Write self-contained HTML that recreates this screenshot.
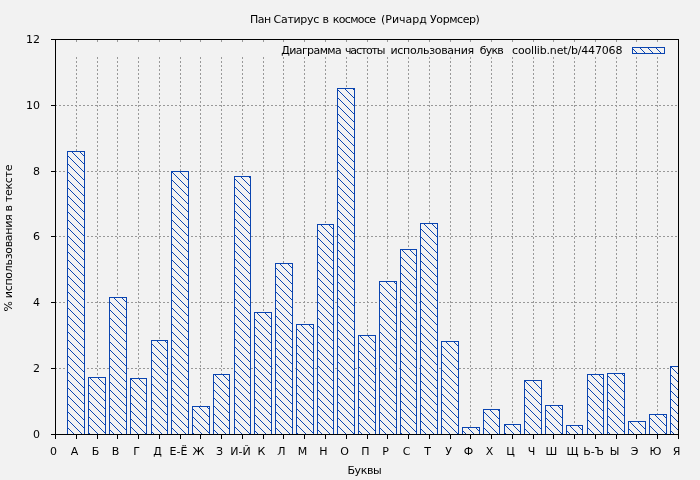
<!DOCTYPE html>
<html><head><meta charset="utf-8"><style>
html,body{margin:0;padding:0;background:#f2f2f2;width:700px;height:480px;overflow:hidden}
svg{display:block}
</style></head><body>
<svg width="700" height="480" viewBox="0 0 700 480" shape-rendering="crispEdges">
<rect width="700" height="480" fill="#f2f2f2"/>
<path d="M55 368h2v1h-2zM59 368h2v1h-2zM63 368h2v1h-2zM67 368h2v1h-2zM71 368h2v1h-2zM75 368h2v1h-2zM79 368h2v1h-2zM83 368h2v1h-2zM87 368h2v1h-2zM91 368h2v1h-2zM95 368h2v1h-2zM99 368h2v1h-2zM103 368h2v1h-2zM107 368h2v1h-2zM111 368h2v1h-2zM115 368h2v1h-2zM119 368h2v1h-2zM123 368h2v1h-2zM127 368h2v1h-2zM131 368h2v1h-2zM135 368h2v1h-2zM139 368h2v1h-2zM143 368h2v1h-2zM147 368h2v1h-2zM151 368h2v1h-2zM155 368h2v1h-2zM159 368h2v1h-2zM163 368h2v1h-2zM167 368h2v1h-2zM171 368h2v1h-2zM175 368h2v1h-2zM179 368h2v1h-2zM183 368h2v1h-2zM187 368h2v1h-2zM191 368h2v1h-2zM195 368h2v1h-2zM199 368h2v1h-2zM203 368h2v1h-2zM207 368h2v1h-2zM211 368h2v1h-2zM215 368h2v1h-2zM219 368h2v1h-2zM223 368h2v1h-2zM227 368h2v1h-2zM231 368h2v1h-2zM235 368h2v1h-2zM239 368h2v1h-2zM243 368h2v1h-2zM247 368h2v1h-2zM251 368h2v1h-2zM255 368h2v1h-2zM259 368h2v1h-2zM263 368h2v1h-2zM267 368h2v1h-2zM271 368h2v1h-2zM275 368h2v1h-2zM279 368h2v1h-2zM283 368h2v1h-2zM287 368h2v1h-2zM291 368h2v1h-2zM295 368h2v1h-2zM299 368h2v1h-2zM303 368h2v1h-2zM307 368h2v1h-2zM311 368h2v1h-2zM315 368h2v1h-2zM319 368h2v1h-2zM323 368h2v1h-2zM327 368h2v1h-2zM331 368h2v1h-2zM335 368h2v1h-2zM339 368h2v1h-2zM343 368h2v1h-2zM347 368h2v1h-2zM351 368h2v1h-2zM355 368h2v1h-2zM359 368h2v1h-2zM363 368h2v1h-2zM367 368h2v1h-2zM371 368h2v1h-2zM375 368h2v1h-2zM379 368h2v1h-2zM383 368h2v1h-2zM387 368h2v1h-2zM391 368h2v1h-2zM395 368h2v1h-2zM399 368h2v1h-2zM403 368h2v1h-2zM407 368h2v1h-2zM411 368h2v1h-2zM415 368h2v1h-2zM419 368h2v1h-2zM423 368h2v1h-2zM427 368h2v1h-2zM431 368h2v1h-2zM435 368h2v1h-2zM439 368h2v1h-2zM443 368h2v1h-2zM447 368h2v1h-2zM451 368h2v1h-2zM455 368h2v1h-2zM459 368h2v1h-2zM463 368h2v1h-2zM467 368h2v1h-2zM471 368h2v1h-2zM475 368h2v1h-2zM479 368h2v1h-2zM483 368h2v1h-2zM487 368h2v1h-2zM491 368h2v1h-2zM495 368h2v1h-2zM499 368h2v1h-2zM503 368h2v1h-2zM507 368h2v1h-2zM511 368h2v1h-2zM515 368h2v1h-2zM519 368h2v1h-2zM523 368h2v1h-2zM527 368h2v1h-2zM531 368h2v1h-2zM535 368h2v1h-2zM539 368h2v1h-2zM543 368h2v1h-2zM547 368h2v1h-2zM551 368h2v1h-2zM555 368h2v1h-2zM559 368h2v1h-2zM563 368h2v1h-2zM567 368h2v1h-2zM571 368h2v1h-2zM575 368h2v1h-2zM579 368h2v1h-2zM583 368h2v1h-2zM587 368h2v1h-2zM591 368h2v1h-2zM595 368h2v1h-2zM599 368h2v1h-2zM603 368h2v1h-2zM607 368h2v1h-2zM611 368h2v1h-2zM615 368h2v1h-2zM619 368h2v1h-2zM623 368h2v1h-2zM627 368h2v1h-2zM631 368h2v1h-2zM635 368h2v1h-2zM639 368h2v1h-2zM643 368h2v1h-2zM647 368h2v1h-2zM651 368h2v1h-2zM655 368h2v1h-2zM659 368h2v1h-2zM663 368h2v1h-2zM667 368h2v1h-2zM671 368h2v1h-2zM675 368h2v1h-2zM55 302h2v1h-2zM59 302h2v1h-2zM63 302h2v1h-2zM67 302h2v1h-2zM71 302h2v1h-2zM75 302h2v1h-2zM79 302h2v1h-2zM83 302h2v1h-2zM87 302h2v1h-2zM91 302h2v1h-2zM95 302h2v1h-2zM99 302h2v1h-2zM103 302h2v1h-2zM107 302h2v1h-2zM111 302h2v1h-2zM115 302h2v1h-2zM119 302h2v1h-2zM123 302h2v1h-2zM127 302h2v1h-2zM131 302h2v1h-2zM135 302h2v1h-2zM139 302h2v1h-2zM143 302h2v1h-2zM147 302h2v1h-2zM151 302h2v1h-2zM155 302h2v1h-2zM159 302h2v1h-2zM163 302h2v1h-2zM167 302h2v1h-2zM171 302h2v1h-2zM175 302h2v1h-2zM179 302h2v1h-2zM183 302h2v1h-2zM187 302h2v1h-2zM191 302h2v1h-2zM195 302h2v1h-2zM199 302h2v1h-2zM203 302h2v1h-2zM207 302h2v1h-2zM211 302h2v1h-2zM215 302h2v1h-2zM219 302h2v1h-2zM223 302h2v1h-2zM227 302h2v1h-2zM231 302h2v1h-2zM235 302h2v1h-2zM239 302h2v1h-2zM243 302h2v1h-2zM247 302h2v1h-2zM251 302h2v1h-2zM255 302h2v1h-2zM259 302h2v1h-2zM263 302h2v1h-2zM267 302h2v1h-2zM271 302h2v1h-2zM275 302h2v1h-2zM279 302h2v1h-2zM283 302h2v1h-2zM287 302h2v1h-2zM291 302h2v1h-2zM295 302h2v1h-2zM299 302h2v1h-2zM303 302h2v1h-2zM307 302h2v1h-2zM311 302h2v1h-2zM315 302h2v1h-2zM319 302h2v1h-2zM323 302h2v1h-2zM327 302h2v1h-2zM331 302h2v1h-2zM335 302h2v1h-2zM339 302h2v1h-2zM343 302h2v1h-2zM347 302h2v1h-2zM351 302h2v1h-2zM355 302h2v1h-2zM359 302h2v1h-2zM363 302h2v1h-2zM367 302h2v1h-2zM371 302h2v1h-2zM375 302h2v1h-2zM379 302h2v1h-2zM383 302h2v1h-2zM387 302h2v1h-2zM391 302h2v1h-2zM395 302h2v1h-2zM399 302h2v1h-2zM403 302h2v1h-2zM407 302h2v1h-2zM411 302h2v1h-2zM415 302h2v1h-2zM419 302h2v1h-2zM423 302h2v1h-2zM427 302h2v1h-2zM431 302h2v1h-2zM435 302h2v1h-2zM439 302h2v1h-2zM443 302h2v1h-2zM447 302h2v1h-2zM451 302h2v1h-2zM455 302h2v1h-2zM459 302h2v1h-2zM463 302h2v1h-2zM467 302h2v1h-2zM471 302h2v1h-2zM475 302h2v1h-2zM479 302h2v1h-2zM483 302h2v1h-2zM487 302h2v1h-2zM491 302h2v1h-2zM495 302h2v1h-2zM499 302h2v1h-2zM503 302h2v1h-2zM507 302h2v1h-2zM511 302h2v1h-2zM515 302h2v1h-2zM519 302h2v1h-2zM523 302h2v1h-2zM527 302h2v1h-2zM531 302h2v1h-2zM535 302h2v1h-2zM539 302h2v1h-2zM543 302h2v1h-2zM547 302h2v1h-2zM551 302h2v1h-2zM555 302h2v1h-2zM559 302h2v1h-2zM563 302h2v1h-2zM567 302h2v1h-2zM571 302h2v1h-2zM575 302h2v1h-2zM579 302h2v1h-2zM583 302h2v1h-2zM587 302h2v1h-2zM591 302h2v1h-2zM595 302h2v1h-2zM599 302h2v1h-2zM603 302h2v1h-2zM607 302h2v1h-2zM611 302h2v1h-2zM615 302h2v1h-2zM619 302h2v1h-2zM623 302h2v1h-2zM627 302h2v1h-2zM631 302h2v1h-2zM635 302h2v1h-2zM639 302h2v1h-2zM643 302h2v1h-2zM647 302h2v1h-2zM651 302h2v1h-2zM655 302h2v1h-2zM659 302h2v1h-2zM663 302h2v1h-2zM667 302h2v1h-2zM671 302h2v1h-2zM675 302h2v1h-2zM55 236h2v1h-2zM59 236h2v1h-2zM63 236h2v1h-2zM67 236h2v1h-2zM71 236h2v1h-2zM75 236h2v1h-2zM79 236h2v1h-2zM83 236h2v1h-2zM87 236h2v1h-2zM91 236h2v1h-2zM95 236h2v1h-2zM99 236h2v1h-2zM103 236h2v1h-2zM107 236h2v1h-2zM111 236h2v1h-2zM115 236h2v1h-2zM119 236h2v1h-2zM123 236h2v1h-2zM127 236h2v1h-2zM131 236h2v1h-2zM135 236h2v1h-2zM139 236h2v1h-2zM143 236h2v1h-2zM147 236h2v1h-2zM151 236h2v1h-2zM155 236h2v1h-2zM159 236h2v1h-2zM163 236h2v1h-2zM167 236h2v1h-2zM171 236h2v1h-2zM175 236h2v1h-2zM179 236h2v1h-2zM183 236h2v1h-2zM187 236h2v1h-2zM191 236h2v1h-2zM195 236h2v1h-2zM199 236h2v1h-2zM203 236h2v1h-2zM207 236h2v1h-2zM211 236h2v1h-2zM215 236h2v1h-2zM219 236h2v1h-2zM223 236h2v1h-2zM227 236h2v1h-2zM231 236h2v1h-2zM235 236h2v1h-2zM239 236h2v1h-2zM243 236h2v1h-2zM247 236h2v1h-2zM251 236h2v1h-2zM255 236h2v1h-2zM259 236h2v1h-2zM263 236h2v1h-2zM267 236h2v1h-2zM271 236h2v1h-2zM275 236h2v1h-2zM279 236h2v1h-2zM283 236h2v1h-2zM287 236h2v1h-2zM291 236h2v1h-2zM295 236h2v1h-2zM299 236h2v1h-2zM303 236h2v1h-2zM307 236h2v1h-2zM311 236h2v1h-2zM315 236h2v1h-2zM319 236h2v1h-2zM323 236h2v1h-2zM327 236h2v1h-2zM331 236h2v1h-2zM335 236h2v1h-2zM339 236h2v1h-2zM343 236h2v1h-2zM347 236h2v1h-2zM351 236h2v1h-2zM355 236h2v1h-2zM359 236h2v1h-2zM363 236h2v1h-2zM367 236h2v1h-2zM371 236h2v1h-2zM375 236h2v1h-2zM379 236h2v1h-2zM383 236h2v1h-2zM387 236h2v1h-2zM391 236h2v1h-2zM395 236h2v1h-2zM399 236h2v1h-2zM403 236h2v1h-2zM407 236h2v1h-2zM411 236h2v1h-2zM415 236h2v1h-2zM419 236h2v1h-2zM423 236h2v1h-2zM427 236h2v1h-2zM431 236h2v1h-2zM435 236h2v1h-2zM439 236h2v1h-2zM443 236h2v1h-2zM447 236h2v1h-2zM451 236h2v1h-2zM455 236h2v1h-2zM459 236h2v1h-2zM463 236h2v1h-2zM467 236h2v1h-2zM471 236h2v1h-2zM475 236h2v1h-2zM479 236h2v1h-2zM483 236h2v1h-2zM487 236h2v1h-2zM491 236h2v1h-2zM495 236h2v1h-2zM499 236h2v1h-2zM503 236h2v1h-2zM507 236h2v1h-2zM511 236h2v1h-2zM515 236h2v1h-2zM519 236h2v1h-2zM523 236h2v1h-2zM527 236h2v1h-2zM531 236h2v1h-2zM535 236h2v1h-2zM539 236h2v1h-2zM543 236h2v1h-2zM547 236h2v1h-2zM551 236h2v1h-2zM555 236h2v1h-2zM559 236h2v1h-2zM563 236h2v1h-2zM567 236h2v1h-2zM571 236h2v1h-2zM575 236h2v1h-2zM579 236h2v1h-2zM583 236h2v1h-2zM587 236h2v1h-2zM591 236h2v1h-2zM595 236h2v1h-2zM599 236h2v1h-2zM603 236h2v1h-2zM607 236h2v1h-2zM611 236h2v1h-2zM615 236h2v1h-2zM619 236h2v1h-2zM623 236h2v1h-2zM627 236h2v1h-2zM631 236h2v1h-2zM635 236h2v1h-2zM639 236h2v1h-2zM643 236h2v1h-2zM647 236h2v1h-2zM651 236h2v1h-2zM655 236h2v1h-2zM659 236h2v1h-2zM663 236h2v1h-2zM667 236h2v1h-2zM671 236h2v1h-2zM675 236h2v1h-2zM55 171h2v1h-2zM59 171h2v1h-2zM63 171h2v1h-2zM67 171h2v1h-2zM71 171h2v1h-2zM75 171h2v1h-2zM79 171h2v1h-2zM83 171h2v1h-2zM87 171h2v1h-2zM91 171h2v1h-2zM95 171h2v1h-2zM99 171h2v1h-2zM103 171h2v1h-2zM107 171h2v1h-2zM111 171h2v1h-2zM115 171h2v1h-2zM119 171h2v1h-2zM123 171h2v1h-2zM127 171h2v1h-2zM131 171h2v1h-2zM135 171h2v1h-2zM139 171h2v1h-2zM143 171h2v1h-2zM147 171h2v1h-2zM151 171h2v1h-2zM155 171h2v1h-2zM159 171h2v1h-2zM163 171h2v1h-2zM167 171h2v1h-2zM171 171h2v1h-2zM175 171h2v1h-2zM179 171h2v1h-2zM183 171h2v1h-2zM187 171h2v1h-2zM191 171h2v1h-2zM195 171h2v1h-2zM199 171h2v1h-2zM203 171h2v1h-2zM207 171h2v1h-2zM211 171h2v1h-2zM215 171h2v1h-2zM219 171h2v1h-2zM223 171h2v1h-2zM227 171h2v1h-2zM231 171h2v1h-2zM235 171h2v1h-2zM239 171h2v1h-2zM243 171h2v1h-2zM247 171h2v1h-2zM251 171h2v1h-2zM255 171h2v1h-2zM259 171h2v1h-2zM263 171h2v1h-2zM267 171h2v1h-2zM271 171h2v1h-2zM275 171h2v1h-2zM279 171h2v1h-2zM283 171h2v1h-2zM287 171h2v1h-2zM291 171h2v1h-2zM295 171h2v1h-2zM299 171h2v1h-2zM303 171h2v1h-2zM307 171h2v1h-2zM311 171h2v1h-2zM315 171h2v1h-2zM319 171h2v1h-2zM323 171h2v1h-2zM327 171h2v1h-2zM331 171h2v1h-2zM335 171h2v1h-2zM339 171h2v1h-2zM343 171h2v1h-2zM347 171h2v1h-2zM351 171h2v1h-2zM355 171h2v1h-2zM359 171h2v1h-2zM363 171h2v1h-2zM367 171h2v1h-2zM371 171h2v1h-2zM375 171h2v1h-2zM379 171h2v1h-2zM383 171h2v1h-2zM387 171h2v1h-2zM391 171h2v1h-2zM395 171h2v1h-2zM399 171h2v1h-2zM403 171h2v1h-2zM407 171h2v1h-2zM411 171h2v1h-2zM415 171h2v1h-2zM419 171h2v1h-2zM423 171h2v1h-2zM427 171h2v1h-2zM431 171h2v1h-2zM435 171h2v1h-2zM439 171h2v1h-2zM443 171h2v1h-2zM447 171h2v1h-2zM451 171h2v1h-2zM455 171h2v1h-2zM459 171h2v1h-2zM463 171h2v1h-2zM467 171h2v1h-2zM471 171h2v1h-2zM475 171h2v1h-2zM479 171h2v1h-2zM483 171h2v1h-2zM487 171h2v1h-2zM491 171h2v1h-2zM495 171h2v1h-2zM499 171h2v1h-2zM503 171h2v1h-2zM507 171h2v1h-2zM511 171h2v1h-2zM515 171h2v1h-2zM519 171h2v1h-2zM523 171h2v1h-2zM527 171h2v1h-2zM531 171h2v1h-2zM535 171h2v1h-2zM539 171h2v1h-2zM543 171h2v1h-2zM547 171h2v1h-2zM551 171h2v1h-2zM555 171h2v1h-2zM559 171h2v1h-2zM563 171h2v1h-2zM567 171h2v1h-2zM571 171h2v1h-2zM575 171h2v1h-2zM579 171h2v1h-2zM583 171h2v1h-2zM587 171h2v1h-2zM591 171h2v1h-2zM595 171h2v1h-2zM599 171h2v1h-2zM603 171h2v1h-2zM607 171h2v1h-2zM611 171h2v1h-2zM615 171h2v1h-2zM619 171h2v1h-2zM623 171h2v1h-2zM627 171h2v1h-2zM631 171h2v1h-2zM635 171h2v1h-2zM639 171h2v1h-2zM643 171h2v1h-2zM647 171h2v1h-2zM651 171h2v1h-2zM655 171h2v1h-2zM659 171h2v1h-2zM663 171h2v1h-2zM667 171h2v1h-2zM671 171h2v1h-2zM675 171h2v1h-2zM55 105h2v1h-2zM59 105h2v1h-2zM63 105h2v1h-2zM67 105h2v1h-2zM71 105h2v1h-2zM75 105h2v1h-2zM79 105h2v1h-2zM83 105h2v1h-2zM87 105h2v1h-2zM91 105h2v1h-2zM95 105h2v1h-2zM99 105h2v1h-2zM103 105h2v1h-2zM107 105h2v1h-2zM111 105h2v1h-2zM115 105h2v1h-2zM119 105h2v1h-2zM123 105h2v1h-2zM127 105h2v1h-2zM131 105h2v1h-2zM135 105h2v1h-2zM139 105h2v1h-2zM143 105h2v1h-2zM147 105h2v1h-2zM151 105h2v1h-2zM155 105h2v1h-2zM159 105h2v1h-2zM163 105h2v1h-2zM167 105h2v1h-2zM171 105h2v1h-2zM175 105h2v1h-2zM179 105h2v1h-2zM183 105h2v1h-2zM187 105h2v1h-2zM191 105h2v1h-2zM195 105h2v1h-2zM199 105h2v1h-2zM203 105h2v1h-2zM207 105h2v1h-2zM211 105h2v1h-2zM215 105h2v1h-2zM219 105h2v1h-2zM223 105h2v1h-2zM227 105h2v1h-2zM231 105h2v1h-2zM235 105h2v1h-2zM239 105h2v1h-2zM243 105h2v1h-2zM247 105h2v1h-2zM251 105h2v1h-2zM255 105h2v1h-2zM259 105h2v1h-2zM263 105h2v1h-2zM267 105h2v1h-2zM271 105h2v1h-2zM275 105h2v1h-2zM279 105h2v1h-2zM283 105h2v1h-2zM287 105h2v1h-2zM291 105h2v1h-2zM295 105h2v1h-2zM299 105h2v1h-2zM303 105h2v1h-2zM307 105h2v1h-2zM311 105h2v1h-2zM315 105h2v1h-2zM319 105h2v1h-2zM323 105h2v1h-2zM327 105h2v1h-2zM331 105h2v1h-2zM335 105h2v1h-2zM339 105h2v1h-2zM343 105h2v1h-2zM347 105h2v1h-2zM351 105h2v1h-2zM355 105h2v1h-2zM359 105h2v1h-2zM363 105h2v1h-2zM367 105h2v1h-2zM371 105h2v1h-2zM375 105h2v1h-2zM379 105h2v1h-2zM383 105h2v1h-2zM387 105h2v1h-2zM391 105h2v1h-2zM395 105h2v1h-2zM399 105h2v1h-2zM403 105h2v1h-2zM407 105h2v1h-2zM411 105h2v1h-2zM415 105h2v1h-2zM419 105h2v1h-2zM423 105h2v1h-2zM427 105h2v1h-2zM431 105h2v1h-2zM435 105h2v1h-2zM439 105h2v1h-2zM443 105h2v1h-2zM447 105h2v1h-2zM451 105h2v1h-2zM455 105h2v1h-2zM459 105h2v1h-2zM463 105h2v1h-2zM467 105h2v1h-2zM471 105h2v1h-2zM475 105h2v1h-2zM479 105h2v1h-2zM483 105h2v1h-2zM487 105h2v1h-2zM491 105h2v1h-2zM495 105h2v1h-2zM499 105h2v1h-2zM503 105h2v1h-2zM507 105h2v1h-2zM511 105h2v1h-2zM515 105h2v1h-2zM519 105h2v1h-2zM523 105h2v1h-2zM527 105h2v1h-2zM531 105h2v1h-2zM535 105h2v1h-2zM539 105h2v1h-2zM543 105h2v1h-2zM547 105h2v1h-2zM551 105h2v1h-2zM555 105h2v1h-2zM559 105h2v1h-2zM563 105h2v1h-2zM567 105h2v1h-2zM571 105h2v1h-2zM575 105h2v1h-2zM579 105h2v1h-2zM583 105h2v1h-2zM587 105h2v1h-2zM591 105h2v1h-2zM595 105h2v1h-2zM599 105h2v1h-2zM603 105h2v1h-2zM607 105h2v1h-2zM611 105h2v1h-2zM615 105h2v1h-2zM619 105h2v1h-2zM623 105h2v1h-2zM627 105h2v1h-2zM631 105h2v1h-2zM635 105h2v1h-2zM639 105h2v1h-2zM643 105h2v1h-2zM647 105h2v1h-2zM651 105h2v1h-2zM655 105h2v1h-2zM659 105h2v1h-2zM663 105h2v1h-2zM667 105h2v1h-2zM671 105h2v1h-2zM675 105h2v1h-2zM76 433h1v2h-1zM76 429h1v2h-1zM76 425h1v2h-1zM76 421h1v2h-1zM76 417h1v2h-1zM76 413h1v2h-1zM76 409h1v2h-1zM76 405h1v2h-1zM76 401h1v2h-1zM76 397h1v2h-1zM76 393h1v2h-1zM76 389h1v2h-1zM76 385h1v2h-1zM76 381h1v2h-1zM76 377h1v2h-1zM76 373h1v2h-1zM76 369h1v2h-1zM76 365h1v2h-1zM76 361h1v2h-1zM76 357h1v2h-1zM76 353h1v2h-1zM76 349h1v2h-1zM76 345h1v2h-1zM76 341h1v2h-1zM76 337h1v2h-1zM76 333h1v2h-1zM76 329h1v2h-1zM76 325h1v2h-1zM76 321h1v2h-1zM76 317h1v2h-1zM76 313h1v2h-1zM76 309h1v2h-1zM76 305h1v2h-1zM76 301h1v2h-1zM76 297h1v2h-1zM76 293h1v2h-1zM76 289h1v2h-1zM76 285h1v2h-1zM76 281h1v2h-1zM76 277h1v2h-1zM76 273h1v2h-1zM76 269h1v2h-1zM76 265h1v2h-1zM76 261h1v2h-1zM76 257h1v2h-1zM76 253h1v2h-1zM76 249h1v2h-1zM76 245h1v2h-1zM76 241h1v2h-1zM76 237h1v2h-1zM76 233h1v2h-1zM76 229h1v2h-1zM76 225h1v2h-1zM76 221h1v2h-1zM76 217h1v2h-1zM76 213h1v2h-1zM76 209h1v2h-1zM76 205h1v2h-1zM76 201h1v2h-1zM76 197h1v2h-1zM76 193h1v2h-1zM76 189h1v2h-1zM76 185h1v2h-1zM76 181h1v2h-1zM76 177h1v2h-1zM76 173h1v2h-1zM76 169h1v2h-1zM76 165h1v2h-1zM76 161h1v2h-1zM76 157h1v2h-1zM76 153h1v2h-1zM76 149h1v2h-1zM76 145h1v2h-1zM76 141h1v2h-1zM76 137h1v2h-1zM76 133h1v2h-1zM76 129h1v2h-1zM76 125h1v2h-1zM76 121h1v2h-1zM76 117h1v2h-1zM76 113h1v2h-1zM76 109h1v2h-1zM76 105h1v2h-1zM76 101h1v2h-1zM76 97h1v2h-1zM76 93h1v2h-1zM76 89h1v2h-1zM76 85h1v2h-1zM76 81h1v2h-1zM76 77h1v2h-1zM76 73h1v2h-1zM76 69h1v2h-1zM76 65h1v2h-1zM76 61h1v2h-1zM76 57h1v2h-1zM76 53h1v2h-1zM76 49h1v2h-1zM76 45h1v2h-1zM76 41h1v2h-1zM76 40h1v2h-1zM97 433h1v2h-1zM97 429h1v2h-1zM97 425h1v2h-1zM97 421h1v2h-1zM97 417h1v2h-1zM97 413h1v2h-1zM97 409h1v2h-1zM97 405h1v2h-1zM97 401h1v2h-1zM97 397h1v2h-1zM97 393h1v2h-1zM97 389h1v2h-1zM97 385h1v2h-1zM97 381h1v2h-1zM97 377h1v2h-1zM97 373h1v2h-1zM97 369h1v2h-1zM97 365h1v2h-1zM97 361h1v2h-1zM97 357h1v2h-1zM97 353h1v2h-1zM97 349h1v2h-1zM97 345h1v2h-1zM97 341h1v2h-1zM97 337h1v2h-1zM97 333h1v2h-1zM97 329h1v2h-1zM97 325h1v2h-1zM97 321h1v2h-1zM97 317h1v2h-1zM97 313h1v2h-1zM97 309h1v2h-1zM97 305h1v2h-1zM97 301h1v2h-1zM97 297h1v2h-1zM97 293h1v2h-1zM97 289h1v2h-1zM97 285h1v2h-1zM97 281h1v2h-1zM97 277h1v2h-1zM97 273h1v2h-1zM97 269h1v2h-1zM97 265h1v2h-1zM97 261h1v2h-1zM97 257h1v2h-1zM97 253h1v2h-1zM97 249h1v2h-1zM97 245h1v2h-1zM97 241h1v2h-1zM97 237h1v2h-1zM97 233h1v2h-1zM97 229h1v2h-1zM97 225h1v2h-1zM97 221h1v2h-1zM97 217h1v2h-1zM97 213h1v2h-1zM97 209h1v2h-1zM97 205h1v2h-1zM97 201h1v2h-1zM97 197h1v2h-1zM97 193h1v2h-1zM97 189h1v2h-1zM97 185h1v2h-1zM97 181h1v2h-1zM97 177h1v2h-1zM97 173h1v2h-1zM97 169h1v2h-1zM97 165h1v2h-1zM97 161h1v2h-1zM97 157h1v2h-1zM97 153h1v2h-1zM97 149h1v2h-1zM97 145h1v2h-1zM97 141h1v2h-1zM97 137h1v2h-1zM97 133h1v2h-1zM97 129h1v2h-1zM97 125h1v2h-1zM97 121h1v2h-1zM97 117h1v2h-1zM97 113h1v2h-1zM97 109h1v2h-1zM97 105h1v2h-1zM97 101h1v2h-1zM97 97h1v2h-1zM97 93h1v2h-1zM97 89h1v2h-1zM97 85h1v2h-1zM97 81h1v2h-1zM97 77h1v2h-1zM97 73h1v2h-1zM97 69h1v2h-1zM97 65h1v2h-1zM97 61h1v2h-1zM97 57h1v2h-1zM97 53h1v2h-1zM97 49h1v2h-1zM97 45h1v2h-1zM97 41h1v2h-1zM97 40h1v2h-1zM117 433h1v2h-1zM117 429h1v2h-1zM117 425h1v2h-1zM117 421h1v2h-1zM117 417h1v2h-1zM117 413h1v2h-1zM117 409h1v2h-1zM117 405h1v2h-1zM117 401h1v2h-1zM117 397h1v2h-1zM117 393h1v2h-1zM117 389h1v2h-1zM117 385h1v2h-1zM117 381h1v2h-1zM117 377h1v2h-1zM117 373h1v2h-1zM117 369h1v2h-1zM117 365h1v2h-1zM117 361h1v2h-1zM117 357h1v2h-1zM117 353h1v2h-1zM117 349h1v2h-1zM117 345h1v2h-1zM117 341h1v2h-1zM117 337h1v2h-1zM117 333h1v2h-1zM117 329h1v2h-1zM117 325h1v2h-1zM117 321h1v2h-1zM117 317h1v2h-1zM117 313h1v2h-1zM117 309h1v2h-1zM117 305h1v2h-1zM117 301h1v2h-1zM117 297h1v2h-1zM117 293h1v2h-1zM117 289h1v2h-1zM117 285h1v2h-1zM117 281h1v2h-1zM117 277h1v2h-1zM117 273h1v2h-1zM117 269h1v2h-1zM117 265h1v2h-1zM117 261h1v2h-1zM117 257h1v2h-1zM117 253h1v2h-1zM117 249h1v2h-1zM117 245h1v2h-1zM117 241h1v2h-1zM117 237h1v2h-1zM117 233h1v2h-1zM117 229h1v2h-1zM117 225h1v2h-1zM117 221h1v2h-1zM117 217h1v2h-1zM117 213h1v2h-1zM117 209h1v2h-1zM117 205h1v2h-1zM117 201h1v2h-1zM117 197h1v2h-1zM117 193h1v2h-1zM117 189h1v2h-1zM117 185h1v2h-1zM117 181h1v2h-1zM117 177h1v2h-1zM117 173h1v2h-1zM117 169h1v2h-1zM117 165h1v2h-1zM117 161h1v2h-1zM117 157h1v2h-1zM117 153h1v2h-1zM117 149h1v2h-1zM117 145h1v2h-1zM117 141h1v2h-1zM117 137h1v2h-1zM117 133h1v2h-1zM117 129h1v2h-1zM117 125h1v2h-1zM117 121h1v2h-1zM117 117h1v2h-1zM117 113h1v2h-1zM117 109h1v2h-1zM117 105h1v2h-1zM117 101h1v2h-1zM117 97h1v2h-1zM117 93h1v2h-1zM117 89h1v2h-1zM117 85h1v2h-1zM117 81h1v2h-1zM117 77h1v2h-1zM117 73h1v2h-1zM117 69h1v2h-1zM117 65h1v2h-1zM117 61h1v2h-1zM117 57h1v2h-1zM117 53h1v2h-1zM117 49h1v2h-1zM117 45h1v2h-1zM117 41h1v2h-1zM117 40h1v2h-1zM138 433h1v2h-1zM138 429h1v2h-1zM138 425h1v2h-1zM138 421h1v2h-1zM138 417h1v2h-1zM138 413h1v2h-1zM138 409h1v2h-1zM138 405h1v2h-1zM138 401h1v2h-1zM138 397h1v2h-1zM138 393h1v2h-1zM138 389h1v2h-1zM138 385h1v2h-1zM138 381h1v2h-1zM138 377h1v2h-1zM138 373h1v2h-1zM138 369h1v2h-1zM138 365h1v2h-1zM138 361h1v2h-1zM138 357h1v2h-1zM138 353h1v2h-1zM138 349h1v2h-1zM138 345h1v2h-1zM138 341h1v2h-1zM138 337h1v2h-1zM138 333h1v2h-1zM138 329h1v2h-1zM138 325h1v2h-1zM138 321h1v2h-1zM138 317h1v2h-1zM138 313h1v2h-1zM138 309h1v2h-1zM138 305h1v2h-1zM138 301h1v2h-1zM138 297h1v2h-1zM138 293h1v2h-1zM138 289h1v2h-1zM138 285h1v2h-1zM138 281h1v2h-1zM138 277h1v2h-1zM138 273h1v2h-1zM138 269h1v2h-1zM138 265h1v2h-1zM138 261h1v2h-1zM138 257h1v2h-1zM138 253h1v2h-1zM138 249h1v2h-1zM138 245h1v2h-1zM138 241h1v2h-1zM138 237h1v2h-1zM138 233h1v2h-1zM138 229h1v2h-1zM138 225h1v2h-1zM138 221h1v2h-1zM138 217h1v2h-1zM138 213h1v2h-1zM138 209h1v2h-1zM138 205h1v2h-1zM138 201h1v2h-1zM138 197h1v2h-1zM138 193h1v2h-1zM138 189h1v2h-1zM138 185h1v2h-1zM138 181h1v2h-1zM138 177h1v2h-1zM138 173h1v2h-1zM138 169h1v2h-1zM138 165h1v2h-1zM138 161h1v2h-1zM138 157h1v2h-1zM138 153h1v2h-1zM138 149h1v2h-1zM138 145h1v2h-1zM138 141h1v2h-1zM138 137h1v2h-1zM138 133h1v2h-1zM138 129h1v2h-1zM138 125h1v2h-1zM138 121h1v2h-1zM138 117h1v2h-1zM138 113h1v2h-1zM138 109h1v2h-1zM138 105h1v2h-1zM138 101h1v2h-1zM138 97h1v2h-1zM138 93h1v2h-1zM138 89h1v2h-1zM138 85h1v2h-1zM138 81h1v2h-1zM138 77h1v2h-1zM138 73h1v2h-1zM138 69h1v2h-1zM138 65h1v2h-1zM138 61h1v2h-1zM138 57h1v2h-1zM138 53h1v2h-1zM138 49h1v2h-1zM138 45h1v2h-1zM138 41h1v2h-1zM138 40h1v2h-1zM159 433h1v2h-1zM159 429h1v2h-1zM159 425h1v2h-1zM159 421h1v2h-1zM159 417h1v2h-1zM159 413h1v2h-1zM159 409h1v2h-1zM159 405h1v2h-1zM159 401h1v2h-1zM159 397h1v2h-1zM159 393h1v2h-1zM159 389h1v2h-1zM159 385h1v2h-1zM159 381h1v2h-1zM159 377h1v2h-1zM159 373h1v2h-1zM159 369h1v2h-1zM159 365h1v2h-1zM159 361h1v2h-1zM159 357h1v2h-1zM159 353h1v2h-1zM159 349h1v2h-1zM159 345h1v2h-1zM159 341h1v2h-1zM159 337h1v2h-1zM159 333h1v2h-1zM159 329h1v2h-1zM159 325h1v2h-1zM159 321h1v2h-1zM159 317h1v2h-1zM159 313h1v2h-1zM159 309h1v2h-1zM159 305h1v2h-1zM159 301h1v2h-1zM159 297h1v2h-1zM159 293h1v2h-1zM159 289h1v2h-1zM159 285h1v2h-1zM159 281h1v2h-1zM159 277h1v2h-1zM159 273h1v2h-1zM159 269h1v2h-1zM159 265h1v2h-1zM159 261h1v2h-1zM159 257h1v2h-1zM159 253h1v2h-1zM159 249h1v2h-1zM159 245h1v2h-1zM159 241h1v2h-1zM159 237h1v2h-1zM159 233h1v2h-1zM159 229h1v2h-1zM159 225h1v2h-1zM159 221h1v2h-1zM159 217h1v2h-1zM159 213h1v2h-1zM159 209h1v2h-1zM159 205h1v2h-1zM159 201h1v2h-1zM159 197h1v2h-1zM159 193h1v2h-1zM159 189h1v2h-1zM159 185h1v2h-1zM159 181h1v2h-1zM159 177h1v2h-1zM159 173h1v2h-1zM159 169h1v2h-1zM159 165h1v2h-1zM159 161h1v2h-1zM159 157h1v2h-1zM159 153h1v2h-1zM159 149h1v2h-1zM159 145h1v2h-1zM159 141h1v2h-1zM159 137h1v2h-1zM159 133h1v2h-1zM159 129h1v2h-1zM159 125h1v2h-1zM159 121h1v2h-1zM159 117h1v2h-1zM159 113h1v2h-1zM159 109h1v2h-1zM159 105h1v2h-1zM159 101h1v2h-1zM159 97h1v2h-1zM159 93h1v2h-1zM159 89h1v2h-1zM159 85h1v2h-1zM159 81h1v2h-1zM159 77h1v2h-1zM159 73h1v2h-1zM159 69h1v2h-1zM159 65h1v2h-1zM159 61h1v2h-1zM159 57h1v2h-1zM159 53h1v2h-1zM159 49h1v2h-1zM159 45h1v2h-1zM159 41h1v2h-1zM159 40h1v2h-1zM180 433h1v2h-1zM180 429h1v2h-1zM180 425h1v2h-1zM180 421h1v2h-1zM180 417h1v2h-1zM180 413h1v2h-1zM180 409h1v2h-1zM180 405h1v2h-1zM180 401h1v2h-1zM180 397h1v2h-1zM180 393h1v2h-1zM180 389h1v2h-1zM180 385h1v2h-1zM180 381h1v2h-1zM180 377h1v2h-1zM180 373h1v2h-1zM180 369h1v2h-1zM180 365h1v2h-1zM180 361h1v2h-1zM180 357h1v2h-1zM180 353h1v2h-1zM180 349h1v2h-1zM180 345h1v2h-1zM180 341h1v2h-1zM180 337h1v2h-1zM180 333h1v2h-1zM180 329h1v2h-1zM180 325h1v2h-1zM180 321h1v2h-1zM180 317h1v2h-1zM180 313h1v2h-1zM180 309h1v2h-1zM180 305h1v2h-1zM180 301h1v2h-1zM180 297h1v2h-1zM180 293h1v2h-1zM180 289h1v2h-1zM180 285h1v2h-1zM180 281h1v2h-1zM180 277h1v2h-1zM180 273h1v2h-1zM180 269h1v2h-1zM180 265h1v2h-1zM180 261h1v2h-1zM180 257h1v2h-1zM180 253h1v2h-1zM180 249h1v2h-1zM180 245h1v2h-1zM180 241h1v2h-1zM180 237h1v2h-1zM180 233h1v2h-1zM180 229h1v2h-1zM180 225h1v2h-1zM180 221h1v2h-1zM180 217h1v2h-1zM180 213h1v2h-1zM180 209h1v2h-1zM180 205h1v2h-1zM180 201h1v2h-1zM180 197h1v2h-1zM180 193h1v2h-1zM180 189h1v2h-1zM180 185h1v2h-1zM180 181h1v2h-1zM180 177h1v2h-1zM180 173h1v2h-1zM180 169h1v2h-1zM180 165h1v2h-1zM180 161h1v2h-1zM180 157h1v2h-1zM180 153h1v2h-1zM180 149h1v2h-1zM180 145h1v2h-1zM180 141h1v2h-1zM180 137h1v2h-1zM180 133h1v2h-1zM180 129h1v2h-1zM180 125h1v2h-1zM180 121h1v2h-1zM180 117h1v2h-1zM180 113h1v2h-1zM180 109h1v2h-1zM180 105h1v2h-1zM180 101h1v2h-1zM180 97h1v2h-1zM180 93h1v2h-1zM180 89h1v2h-1zM180 85h1v2h-1zM180 81h1v2h-1zM180 77h1v2h-1zM180 73h1v2h-1zM180 69h1v2h-1zM180 65h1v2h-1zM180 61h1v2h-1zM180 57h1v2h-1zM180 53h1v2h-1zM180 49h1v2h-1zM180 45h1v2h-1zM180 41h1v2h-1zM180 40h1v2h-1zM200 433h1v2h-1zM200 429h1v2h-1zM200 425h1v2h-1zM200 421h1v2h-1zM200 417h1v2h-1zM200 413h1v2h-1zM200 409h1v2h-1zM200 405h1v2h-1zM200 401h1v2h-1zM200 397h1v2h-1zM200 393h1v2h-1zM200 389h1v2h-1zM200 385h1v2h-1zM200 381h1v2h-1zM200 377h1v2h-1zM200 373h1v2h-1zM200 369h1v2h-1zM200 365h1v2h-1zM200 361h1v2h-1zM200 357h1v2h-1zM200 353h1v2h-1zM200 349h1v2h-1zM200 345h1v2h-1zM200 341h1v2h-1zM200 337h1v2h-1zM200 333h1v2h-1zM200 329h1v2h-1zM200 325h1v2h-1zM200 321h1v2h-1zM200 317h1v2h-1zM200 313h1v2h-1zM200 309h1v2h-1zM200 305h1v2h-1zM200 301h1v2h-1zM200 297h1v2h-1zM200 293h1v2h-1zM200 289h1v2h-1zM200 285h1v2h-1zM200 281h1v2h-1zM200 277h1v2h-1zM200 273h1v2h-1zM200 269h1v2h-1zM200 265h1v2h-1zM200 261h1v2h-1zM200 257h1v2h-1zM200 253h1v2h-1zM200 249h1v2h-1zM200 245h1v2h-1zM200 241h1v2h-1zM200 237h1v2h-1zM200 233h1v2h-1zM200 229h1v2h-1zM200 225h1v2h-1zM200 221h1v2h-1zM200 217h1v2h-1zM200 213h1v2h-1zM200 209h1v2h-1zM200 205h1v2h-1zM200 201h1v2h-1zM200 197h1v2h-1zM200 193h1v2h-1zM200 189h1v2h-1zM200 185h1v2h-1zM200 181h1v2h-1zM200 177h1v2h-1zM200 173h1v2h-1zM200 169h1v2h-1zM200 165h1v2h-1zM200 161h1v2h-1zM200 157h1v2h-1zM200 153h1v2h-1zM200 149h1v2h-1zM200 145h1v2h-1zM200 141h1v2h-1zM200 137h1v2h-1zM200 133h1v2h-1zM200 129h1v2h-1zM200 125h1v2h-1zM200 121h1v2h-1zM200 117h1v2h-1zM200 113h1v2h-1zM200 109h1v2h-1zM200 105h1v2h-1zM200 101h1v2h-1zM200 97h1v2h-1zM200 93h1v2h-1zM200 89h1v2h-1zM200 85h1v2h-1zM200 81h1v2h-1zM200 77h1v2h-1zM200 73h1v2h-1zM200 69h1v2h-1zM200 65h1v2h-1zM200 61h1v2h-1zM200 57h1v2h-1zM200 53h1v2h-1zM200 49h1v2h-1zM200 45h1v2h-1zM200 41h1v2h-1zM200 40h1v2h-1zM221 433h1v2h-1zM221 429h1v2h-1zM221 425h1v2h-1zM221 421h1v2h-1zM221 417h1v2h-1zM221 413h1v2h-1zM221 409h1v2h-1zM221 405h1v2h-1zM221 401h1v2h-1zM221 397h1v2h-1zM221 393h1v2h-1zM221 389h1v2h-1zM221 385h1v2h-1zM221 381h1v2h-1zM221 377h1v2h-1zM221 373h1v2h-1zM221 369h1v2h-1zM221 365h1v2h-1zM221 361h1v2h-1zM221 357h1v2h-1zM221 353h1v2h-1zM221 349h1v2h-1zM221 345h1v2h-1zM221 341h1v2h-1zM221 337h1v2h-1zM221 333h1v2h-1zM221 329h1v2h-1zM221 325h1v2h-1zM221 321h1v2h-1zM221 317h1v2h-1zM221 313h1v2h-1zM221 309h1v2h-1zM221 305h1v2h-1zM221 301h1v2h-1zM221 297h1v2h-1zM221 293h1v2h-1zM221 289h1v2h-1zM221 285h1v2h-1zM221 281h1v2h-1zM221 277h1v2h-1zM221 273h1v2h-1zM221 269h1v2h-1zM221 265h1v2h-1zM221 261h1v2h-1zM221 257h1v2h-1zM221 253h1v2h-1zM221 249h1v2h-1zM221 245h1v2h-1zM221 241h1v2h-1zM221 237h1v2h-1zM221 233h1v2h-1zM221 229h1v2h-1zM221 225h1v2h-1zM221 221h1v2h-1zM221 217h1v2h-1zM221 213h1v2h-1zM221 209h1v2h-1zM221 205h1v2h-1zM221 201h1v2h-1zM221 197h1v2h-1zM221 193h1v2h-1zM221 189h1v2h-1zM221 185h1v2h-1zM221 181h1v2h-1zM221 177h1v2h-1zM221 173h1v2h-1zM221 169h1v2h-1zM221 165h1v2h-1zM221 161h1v2h-1zM221 157h1v2h-1zM221 153h1v2h-1zM221 149h1v2h-1zM221 145h1v2h-1zM221 141h1v2h-1zM221 137h1v2h-1zM221 133h1v2h-1zM221 129h1v2h-1zM221 125h1v2h-1zM221 121h1v2h-1zM221 117h1v2h-1zM221 113h1v2h-1zM221 109h1v2h-1zM221 105h1v2h-1zM221 101h1v2h-1zM221 97h1v2h-1zM221 93h1v2h-1zM221 89h1v2h-1zM221 85h1v2h-1zM221 81h1v2h-1zM221 77h1v2h-1zM221 73h1v2h-1zM221 69h1v2h-1zM221 65h1v2h-1zM221 61h1v2h-1zM221 57h1v2h-1zM221 53h1v2h-1zM221 49h1v2h-1zM221 45h1v2h-1zM221 41h1v2h-1zM221 40h1v2h-1zM242 433h1v2h-1zM242 429h1v2h-1zM242 425h1v2h-1zM242 421h1v2h-1zM242 417h1v2h-1zM242 413h1v2h-1zM242 409h1v2h-1zM242 405h1v2h-1zM242 401h1v2h-1zM242 397h1v2h-1zM242 393h1v2h-1zM242 389h1v2h-1zM242 385h1v2h-1zM242 381h1v2h-1zM242 377h1v2h-1zM242 373h1v2h-1zM242 369h1v2h-1zM242 365h1v2h-1zM242 361h1v2h-1zM242 357h1v2h-1zM242 353h1v2h-1zM242 349h1v2h-1zM242 345h1v2h-1zM242 341h1v2h-1zM242 337h1v2h-1zM242 333h1v2h-1zM242 329h1v2h-1zM242 325h1v2h-1zM242 321h1v2h-1zM242 317h1v2h-1zM242 313h1v2h-1zM242 309h1v2h-1zM242 305h1v2h-1zM242 301h1v2h-1zM242 297h1v2h-1zM242 293h1v2h-1zM242 289h1v2h-1zM242 285h1v2h-1zM242 281h1v2h-1zM242 277h1v2h-1zM242 273h1v2h-1zM242 269h1v2h-1zM242 265h1v2h-1zM242 261h1v2h-1zM242 257h1v2h-1zM242 253h1v2h-1zM242 249h1v2h-1zM242 245h1v2h-1zM242 241h1v2h-1zM242 237h1v2h-1zM242 233h1v2h-1zM242 229h1v2h-1zM242 225h1v2h-1zM242 221h1v2h-1zM242 217h1v2h-1zM242 213h1v2h-1zM242 209h1v2h-1zM242 205h1v2h-1zM242 201h1v2h-1zM242 197h1v2h-1zM242 193h1v2h-1zM242 189h1v2h-1zM242 185h1v2h-1zM242 181h1v2h-1zM242 177h1v2h-1zM242 173h1v2h-1zM242 169h1v2h-1zM242 165h1v2h-1zM242 161h1v2h-1zM242 157h1v2h-1zM242 153h1v2h-1zM242 149h1v2h-1zM242 145h1v2h-1zM242 141h1v2h-1zM242 137h1v2h-1zM242 133h1v2h-1zM242 129h1v2h-1zM242 125h1v2h-1zM242 121h1v2h-1zM242 117h1v2h-1zM242 113h1v2h-1zM242 109h1v2h-1zM242 105h1v2h-1zM242 101h1v2h-1zM242 97h1v2h-1zM242 93h1v2h-1zM242 89h1v2h-1zM242 85h1v2h-1zM242 81h1v2h-1zM242 77h1v2h-1zM242 73h1v2h-1zM242 69h1v2h-1zM242 65h1v2h-1zM242 61h1v2h-1zM242 57h1v2h-1zM242 53h1v2h-1zM242 49h1v2h-1zM242 45h1v2h-1zM242 41h1v2h-1zM242 40h1v2h-1zM263 433h1v2h-1zM263 429h1v2h-1zM263 425h1v2h-1zM263 421h1v2h-1zM263 417h1v2h-1zM263 413h1v2h-1zM263 409h1v2h-1zM263 405h1v2h-1zM263 401h1v2h-1zM263 397h1v2h-1zM263 393h1v2h-1zM263 389h1v2h-1zM263 385h1v2h-1zM263 381h1v2h-1zM263 377h1v2h-1zM263 373h1v2h-1zM263 369h1v2h-1zM263 365h1v2h-1zM263 361h1v2h-1zM263 357h1v2h-1zM263 353h1v2h-1zM263 349h1v2h-1zM263 345h1v2h-1zM263 341h1v2h-1zM263 337h1v2h-1zM263 333h1v2h-1zM263 329h1v2h-1zM263 325h1v2h-1zM263 321h1v2h-1zM263 317h1v2h-1zM263 313h1v2h-1zM263 309h1v2h-1zM263 305h1v2h-1zM263 301h1v2h-1zM263 297h1v2h-1zM263 293h1v2h-1zM263 289h1v2h-1zM263 285h1v2h-1zM263 281h1v2h-1zM263 277h1v2h-1zM263 273h1v2h-1zM263 269h1v2h-1zM263 265h1v2h-1zM263 261h1v2h-1zM263 257h1v2h-1zM263 253h1v2h-1zM263 249h1v2h-1zM263 245h1v2h-1zM263 241h1v2h-1zM263 237h1v2h-1zM263 233h1v2h-1zM263 229h1v2h-1zM263 225h1v2h-1zM263 221h1v2h-1zM263 217h1v2h-1zM263 213h1v2h-1zM263 209h1v2h-1zM263 205h1v2h-1zM263 201h1v2h-1zM263 197h1v2h-1zM263 193h1v2h-1zM263 189h1v2h-1zM263 185h1v2h-1zM263 181h1v2h-1zM263 177h1v2h-1zM263 173h1v2h-1zM263 169h1v2h-1zM263 165h1v2h-1zM263 161h1v2h-1zM263 157h1v2h-1zM263 153h1v2h-1zM263 149h1v2h-1zM263 145h1v2h-1zM263 141h1v2h-1zM263 137h1v2h-1zM263 133h1v2h-1zM263 129h1v2h-1zM263 125h1v2h-1zM263 121h1v2h-1zM263 117h1v2h-1zM263 113h1v2h-1zM263 109h1v2h-1zM263 105h1v2h-1zM263 101h1v2h-1zM263 97h1v2h-1zM263 93h1v2h-1zM263 89h1v2h-1zM263 85h1v2h-1zM263 81h1v2h-1zM263 77h1v2h-1zM263 73h1v2h-1zM263 69h1v2h-1zM263 65h1v2h-1zM263 61h1v2h-1zM263 57h1v2h-1zM263 53h1v2h-1zM263 49h1v2h-1zM263 45h1v2h-1zM263 41h1v2h-1zM263 40h1v2h-1zM283 433h1v2h-1zM283 429h1v2h-1zM283 425h1v2h-1zM283 421h1v2h-1zM283 417h1v2h-1zM283 413h1v2h-1zM283 409h1v2h-1zM283 405h1v2h-1zM283 401h1v2h-1zM283 397h1v2h-1zM283 393h1v2h-1zM283 389h1v2h-1zM283 385h1v2h-1zM283 381h1v2h-1zM283 377h1v2h-1zM283 373h1v2h-1zM283 369h1v2h-1zM283 365h1v2h-1zM283 361h1v2h-1zM283 357h1v2h-1zM283 353h1v2h-1zM283 349h1v2h-1zM283 345h1v2h-1zM283 341h1v2h-1zM283 337h1v2h-1zM283 333h1v2h-1zM283 329h1v2h-1zM283 325h1v2h-1zM283 321h1v2h-1zM283 317h1v2h-1zM283 313h1v2h-1zM283 309h1v2h-1zM283 305h1v2h-1zM283 301h1v2h-1zM283 297h1v2h-1zM283 293h1v2h-1zM283 289h1v2h-1zM283 285h1v2h-1zM283 281h1v2h-1zM283 277h1v2h-1zM283 273h1v2h-1zM283 269h1v2h-1zM283 265h1v2h-1zM283 261h1v2h-1zM283 257h1v2h-1zM283 253h1v2h-1zM283 249h1v2h-1zM283 245h1v2h-1zM283 241h1v2h-1zM283 237h1v2h-1zM283 233h1v2h-1zM283 229h1v2h-1zM283 225h1v2h-1zM283 221h1v2h-1zM283 217h1v2h-1zM283 213h1v2h-1zM283 209h1v2h-1zM283 205h1v2h-1zM283 201h1v2h-1zM283 197h1v2h-1zM283 193h1v2h-1zM283 189h1v2h-1zM283 185h1v2h-1zM283 181h1v2h-1zM283 177h1v2h-1zM283 173h1v2h-1zM283 169h1v2h-1zM283 165h1v2h-1zM283 161h1v2h-1zM283 157h1v2h-1zM283 153h1v2h-1zM283 149h1v2h-1zM283 145h1v2h-1zM283 141h1v2h-1zM283 137h1v2h-1zM283 133h1v2h-1zM283 129h1v2h-1zM283 125h1v2h-1zM283 121h1v2h-1zM283 117h1v2h-1zM283 113h1v2h-1zM283 109h1v2h-1zM283 105h1v2h-1zM283 101h1v2h-1zM283 97h1v2h-1zM283 93h1v2h-1zM283 89h1v2h-1zM283 85h1v2h-1zM283 81h1v2h-1zM283 77h1v2h-1zM283 73h1v2h-1zM283 69h1v2h-1zM283 65h1v2h-1zM283 61h1v2h-1zM283 57h1v2h-1zM283 53h1v2h-1zM283 49h1v2h-1zM283 45h1v2h-1zM283 41h1v2h-1zM283 40h1v2h-1zM304 433h1v2h-1zM304 429h1v2h-1zM304 425h1v2h-1zM304 421h1v2h-1zM304 417h1v2h-1zM304 413h1v2h-1zM304 409h1v2h-1zM304 405h1v2h-1zM304 401h1v2h-1zM304 397h1v2h-1zM304 393h1v2h-1zM304 389h1v2h-1zM304 385h1v2h-1zM304 381h1v2h-1zM304 377h1v2h-1zM304 373h1v2h-1zM304 369h1v2h-1zM304 365h1v2h-1zM304 361h1v2h-1zM304 357h1v2h-1zM304 353h1v2h-1zM304 349h1v2h-1zM304 345h1v2h-1zM304 341h1v2h-1zM304 337h1v2h-1zM304 333h1v2h-1zM304 329h1v2h-1zM304 325h1v2h-1zM304 321h1v2h-1zM304 317h1v2h-1zM304 313h1v2h-1zM304 309h1v2h-1zM304 305h1v2h-1zM304 301h1v2h-1zM304 297h1v2h-1zM304 293h1v2h-1zM304 289h1v2h-1zM304 285h1v2h-1zM304 281h1v2h-1zM304 277h1v2h-1zM304 273h1v2h-1zM304 269h1v2h-1zM304 265h1v2h-1zM304 261h1v2h-1zM304 257h1v2h-1zM304 253h1v2h-1zM304 249h1v2h-1zM304 245h1v2h-1zM304 241h1v2h-1zM304 237h1v2h-1zM304 233h1v2h-1zM304 229h1v2h-1zM304 225h1v2h-1zM304 221h1v2h-1zM304 217h1v2h-1zM304 213h1v2h-1zM304 209h1v2h-1zM304 205h1v2h-1zM304 201h1v2h-1zM304 197h1v2h-1zM304 193h1v2h-1zM304 189h1v2h-1zM304 185h1v2h-1zM304 181h1v2h-1zM304 177h1v2h-1zM304 173h1v2h-1zM304 169h1v2h-1zM304 165h1v2h-1zM304 161h1v2h-1zM304 157h1v2h-1zM304 153h1v2h-1zM304 149h1v2h-1zM304 145h1v2h-1zM304 141h1v2h-1zM304 137h1v2h-1zM304 133h1v2h-1zM304 129h1v2h-1zM304 125h1v2h-1zM304 121h1v2h-1zM304 117h1v2h-1zM304 113h1v2h-1zM304 109h1v2h-1zM304 105h1v2h-1zM304 101h1v2h-1zM304 97h1v2h-1zM304 93h1v2h-1zM304 89h1v2h-1zM304 85h1v2h-1zM304 81h1v2h-1zM304 77h1v2h-1zM304 73h1v2h-1zM304 69h1v2h-1zM304 65h1v2h-1zM304 61h1v2h-1zM304 57h1v2h-1zM304 53h1v2h-1zM304 49h1v2h-1zM304 45h1v2h-1zM304 41h1v2h-1zM304 40h1v2h-1zM325 433h1v2h-1zM325 429h1v2h-1zM325 425h1v2h-1zM325 421h1v2h-1zM325 417h1v2h-1zM325 413h1v2h-1zM325 409h1v2h-1zM325 405h1v2h-1zM325 401h1v2h-1zM325 397h1v2h-1zM325 393h1v2h-1zM325 389h1v2h-1zM325 385h1v2h-1zM325 381h1v2h-1zM325 377h1v2h-1zM325 373h1v2h-1zM325 369h1v2h-1zM325 365h1v2h-1zM325 361h1v2h-1zM325 357h1v2h-1zM325 353h1v2h-1zM325 349h1v2h-1zM325 345h1v2h-1zM325 341h1v2h-1zM325 337h1v2h-1zM325 333h1v2h-1zM325 329h1v2h-1zM325 325h1v2h-1zM325 321h1v2h-1zM325 317h1v2h-1zM325 313h1v2h-1zM325 309h1v2h-1zM325 305h1v2h-1zM325 301h1v2h-1zM325 297h1v2h-1zM325 293h1v2h-1zM325 289h1v2h-1zM325 285h1v2h-1zM325 281h1v2h-1zM325 277h1v2h-1zM325 273h1v2h-1zM325 269h1v2h-1zM325 265h1v2h-1zM325 261h1v2h-1zM325 257h1v2h-1zM325 253h1v2h-1zM325 249h1v2h-1zM325 245h1v2h-1zM325 241h1v2h-1zM325 237h1v2h-1zM325 233h1v2h-1zM325 229h1v2h-1zM325 225h1v2h-1zM325 221h1v2h-1zM325 217h1v2h-1zM325 213h1v2h-1zM325 209h1v2h-1zM325 205h1v2h-1zM325 201h1v2h-1zM325 197h1v2h-1zM325 193h1v2h-1zM325 189h1v2h-1zM325 185h1v2h-1zM325 181h1v2h-1zM325 177h1v2h-1zM325 173h1v2h-1zM325 169h1v2h-1zM325 165h1v2h-1zM325 161h1v2h-1zM325 157h1v2h-1zM325 153h1v2h-1zM325 149h1v2h-1zM325 145h1v2h-1zM325 141h1v2h-1zM325 137h1v2h-1zM325 133h1v2h-1zM325 129h1v2h-1zM325 125h1v2h-1zM325 121h1v2h-1zM325 117h1v2h-1zM325 113h1v2h-1zM325 109h1v2h-1zM325 105h1v2h-1zM325 101h1v2h-1zM325 97h1v2h-1zM325 93h1v2h-1zM325 89h1v2h-1zM325 85h1v2h-1zM325 81h1v2h-1zM325 77h1v2h-1zM325 73h1v2h-1zM325 69h1v2h-1zM325 65h1v2h-1zM325 61h1v2h-1zM325 57h1v2h-1zM325 53h1v2h-1zM325 49h1v2h-1zM325 45h1v2h-1zM325 41h1v2h-1zM325 40h1v2h-1zM346 433h1v2h-1zM346 429h1v2h-1zM346 425h1v2h-1zM346 421h1v2h-1zM346 417h1v2h-1zM346 413h1v2h-1zM346 409h1v2h-1zM346 405h1v2h-1zM346 401h1v2h-1zM346 397h1v2h-1zM346 393h1v2h-1zM346 389h1v2h-1zM346 385h1v2h-1zM346 381h1v2h-1zM346 377h1v2h-1zM346 373h1v2h-1zM346 369h1v2h-1zM346 365h1v2h-1zM346 361h1v2h-1zM346 357h1v2h-1zM346 353h1v2h-1zM346 349h1v2h-1zM346 345h1v2h-1zM346 341h1v2h-1zM346 337h1v2h-1zM346 333h1v2h-1zM346 329h1v2h-1zM346 325h1v2h-1zM346 321h1v2h-1zM346 317h1v2h-1zM346 313h1v2h-1zM346 309h1v2h-1zM346 305h1v2h-1zM346 301h1v2h-1zM346 297h1v2h-1zM346 293h1v2h-1zM346 289h1v2h-1zM346 285h1v2h-1zM346 281h1v2h-1zM346 277h1v2h-1zM346 273h1v2h-1zM346 269h1v2h-1zM346 265h1v2h-1zM346 261h1v2h-1zM346 257h1v2h-1zM346 253h1v2h-1zM346 249h1v2h-1zM346 245h1v2h-1zM346 241h1v2h-1zM346 237h1v2h-1zM346 233h1v2h-1zM346 229h1v2h-1zM346 225h1v2h-1zM346 221h1v2h-1zM346 217h1v2h-1zM346 213h1v2h-1zM346 209h1v2h-1zM346 205h1v2h-1zM346 201h1v2h-1zM346 197h1v2h-1zM346 193h1v2h-1zM346 189h1v2h-1zM346 185h1v2h-1zM346 181h1v2h-1zM346 177h1v2h-1zM346 173h1v2h-1zM346 169h1v2h-1zM346 165h1v2h-1zM346 161h1v2h-1zM346 157h1v2h-1zM346 153h1v2h-1zM346 149h1v2h-1zM346 145h1v2h-1zM346 141h1v2h-1zM346 137h1v2h-1zM346 133h1v2h-1zM346 129h1v2h-1zM346 125h1v2h-1zM346 121h1v2h-1zM346 117h1v2h-1zM346 113h1v2h-1zM346 109h1v2h-1zM346 105h1v2h-1zM346 101h1v2h-1zM346 97h1v2h-1zM346 93h1v2h-1zM346 89h1v2h-1zM346 85h1v2h-1zM346 81h1v2h-1zM346 77h1v2h-1zM346 73h1v2h-1zM346 69h1v2h-1zM346 65h1v2h-1zM346 61h1v2h-1zM346 57h1v2h-1zM346 53h1v2h-1zM346 49h1v2h-1zM346 45h1v2h-1zM346 41h1v2h-1zM346 40h1v2h-1zM367 433h1v2h-1zM367 429h1v2h-1zM367 425h1v2h-1zM367 421h1v2h-1zM367 417h1v2h-1zM367 413h1v2h-1zM367 409h1v2h-1zM367 405h1v2h-1zM367 401h1v2h-1zM367 397h1v2h-1zM367 393h1v2h-1zM367 389h1v2h-1zM367 385h1v2h-1zM367 381h1v2h-1zM367 377h1v2h-1zM367 373h1v2h-1zM367 369h1v2h-1zM367 365h1v2h-1zM367 361h1v2h-1zM367 357h1v2h-1zM367 353h1v2h-1zM367 349h1v2h-1zM367 345h1v2h-1zM367 341h1v2h-1zM367 337h1v2h-1zM367 333h1v2h-1zM367 329h1v2h-1zM367 325h1v2h-1zM367 321h1v2h-1zM367 317h1v2h-1zM367 313h1v2h-1zM367 309h1v2h-1zM367 305h1v2h-1zM367 301h1v2h-1zM367 297h1v2h-1zM367 293h1v2h-1zM367 289h1v2h-1zM367 285h1v2h-1zM367 281h1v2h-1zM367 277h1v2h-1zM367 273h1v2h-1zM367 269h1v2h-1zM367 265h1v2h-1zM367 261h1v2h-1zM367 257h1v2h-1zM367 253h1v2h-1zM367 249h1v2h-1zM367 245h1v2h-1zM367 241h1v2h-1zM367 237h1v2h-1zM367 233h1v2h-1zM367 229h1v2h-1zM367 225h1v2h-1zM367 221h1v2h-1zM367 217h1v2h-1zM367 213h1v2h-1zM367 209h1v2h-1zM367 205h1v2h-1zM367 201h1v2h-1zM367 197h1v2h-1zM367 193h1v2h-1zM367 189h1v2h-1zM367 185h1v2h-1zM367 181h1v2h-1zM367 177h1v2h-1zM367 173h1v2h-1zM367 169h1v2h-1zM367 165h1v2h-1zM367 161h1v2h-1zM367 157h1v2h-1zM367 153h1v2h-1zM367 149h1v2h-1zM367 145h1v2h-1zM367 141h1v2h-1zM367 137h1v2h-1zM367 133h1v2h-1zM367 129h1v2h-1zM367 125h1v2h-1zM367 121h1v2h-1zM367 117h1v2h-1zM367 113h1v2h-1zM367 109h1v2h-1zM367 105h1v2h-1zM367 101h1v2h-1zM367 97h1v2h-1zM367 93h1v2h-1zM367 89h1v2h-1zM367 85h1v2h-1zM367 81h1v2h-1zM367 77h1v2h-1zM367 73h1v2h-1zM367 69h1v2h-1zM367 65h1v2h-1zM367 61h1v2h-1zM367 57h1v2h-1zM367 53h1v2h-1zM367 49h1v2h-1zM367 45h1v2h-1zM367 41h1v2h-1zM367 40h1v2h-1zM387 433h1v2h-1zM387 429h1v2h-1zM387 425h1v2h-1zM387 421h1v2h-1zM387 417h1v2h-1zM387 413h1v2h-1zM387 409h1v2h-1zM387 405h1v2h-1zM387 401h1v2h-1zM387 397h1v2h-1zM387 393h1v2h-1zM387 389h1v2h-1zM387 385h1v2h-1zM387 381h1v2h-1zM387 377h1v2h-1zM387 373h1v2h-1zM387 369h1v2h-1zM387 365h1v2h-1zM387 361h1v2h-1zM387 357h1v2h-1zM387 353h1v2h-1zM387 349h1v2h-1zM387 345h1v2h-1zM387 341h1v2h-1zM387 337h1v2h-1zM387 333h1v2h-1zM387 329h1v2h-1zM387 325h1v2h-1zM387 321h1v2h-1zM387 317h1v2h-1zM387 313h1v2h-1zM387 309h1v2h-1zM387 305h1v2h-1zM387 301h1v2h-1zM387 297h1v2h-1zM387 293h1v2h-1zM387 289h1v2h-1zM387 285h1v2h-1zM387 281h1v2h-1zM387 277h1v2h-1zM387 273h1v2h-1zM387 269h1v2h-1zM387 265h1v2h-1zM387 261h1v2h-1zM387 257h1v2h-1zM387 253h1v2h-1zM387 249h1v2h-1zM387 245h1v2h-1zM387 241h1v2h-1zM387 237h1v2h-1zM387 233h1v2h-1zM387 229h1v2h-1zM387 225h1v2h-1zM387 221h1v2h-1zM387 217h1v2h-1zM387 213h1v2h-1zM387 209h1v2h-1zM387 205h1v2h-1zM387 201h1v2h-1zM387 197h1v2h-1zM387 193h1v2h-1zM387 189h1v2h-1zM387 185h1v2h-1zM387 181h1v2h-1zM387 177h1v2h-1zM387 173h1v2h-1zM387 169h1v2h-1zM387 165h1v2h-1zM387 161h1v2h-1zM387 157h1v2h-1zM387 153h1v2h-1zM387 149h1v2h-1zM387 145h1v2h-1zM387 141h1v2h-1zM387 137h1v2h-1zM387 133h1v2h-1zM387 129h1v2h-1zM387 125h1v2h-1zM387 121h1v2h-1zM387 117h1v2h-1zM387 113h1v2h-1zM387 109h1v2h-1zM387 105h1v2h-1zM387 101h1v2h-1zM387 97h1v2h-1zM387 93h1v2h-1zM387 89h1v2h-1zM387 85h1v2h-1zM387 81h1v2h-1zM387 77h1v2h-1zM387 73h1v2h-1zM387 69h1v2h-1zM387 65h1v2h-1zM387 61h1v2h-1zM387 57h1v2h-1zM387 53h1v2h-1zM387 49h1v2h-1zM387 45h1v2h-1zM387 41h1v2h-1zM387 40h1v2h-1zM408 433h1v2h-1zM408 429h1v2h-1zM408 425h1v2h-1zM408 421h1v2h-1zM408 417h1v2h-1zM408 413h1v2h-1zM408 409h1v2h-1zM408 405h1v2h-1zM408 401h1v2h-1zM408 397h1v2h-1zM408 393h1v2h-1zM408 389h1v2h-1zM408 385h1v2h-1zM408 381h1v2h-1zM408 377h1v2h-1zM408 373h1v2h-1zM408 369h1v2h-1zM408 365h1v2h-1zM408 361h1v2h-1zM408 357h1v2h-1zM408 353h1v2h-1zM408 349h1v2h-1zM408 345h1v2h-1zM408 341h1v2h-1zM408 337h1v2h-1zM408 333h1v2h-1zM408 329h1v2h-1zM408 325h1v2h-1zM408 321h1v2h-1zM408 317h1v2h-1zM408 313h1v2h-1zM408 309h1v2h-1zM408 305h1v2h-1zM408 301h1v2h-1zM408 297h1v2h-1zM408 293h1v2h-1zM408 289h1v2h-1zM408 285h1v2h-1zM408 281h1v2h-1zM408 277h1v2h-1zM408 273h1v2h-1zM408 269h1v2h-1zM408 265h1v2h-1zM408 261h1v2h-1zM408 257h1v2h-1zM408 253h1v2h-1zM408 249h1v2h-1zM408 245h1v2h-1zM408 241h1v2h-1zM408 237h1v2h-1zM408 233h1v2h-1zM408 229h1v2h-1zM408 225h1v2h-1zM408 221h1v2h-1zM408 217h1v2h-1zM408 213h1v2h-1zM408 209h1v2h-1zM408 205h1v2h-1zM408 201h1v2h-1zM408 197h1v2h-1zM408 193h1v2h-1zM408 189h1v2h-1zM408 185h1v2h-1zM408 181h1v2h-1zM408 177h1v2h-1zM408 173h1v2h-1zM408 169h1v2h-1zM408 165h1v2h-1zM408 161h1v2h-1zM408 157h1v2h-1zM408 153h1v2h-1zM408 149h1v2h-1zM408 145h1v2h-1zM408 141h1v2h-1zM408 137h1v2h-1zM408 133h1v2h-1zM408 129h1v2h-1zM408 125h1v2h-1zM408 121h1v2h-1zM408 117h1v2h-1zM408 113h1v2h-1zM408 109h1v2h-1zM408 105h1v2h-1zM408 101h1v2h-1zM408 97h1v2h-1zM408 93h1v2h-1zM408 89h1v2h-1zM408 85h1v2h-1zM408 81h1v2h-1zM408 77h1v2h-1zM408 73h1v2h-1zM408 69h1v2h-1zM408 65h1v2h-1zM408 61h1v2h-1zM408 57h1v2h-1zM408 53h1v2h-1zM408 49h1v2h-1zM408 45h1v2h-1zM408 41h1v2h-1zM408 40h1v2h-1zM429 433h1v2h-1zM429 429h1v2h-1zM429 425h1v2h-1zM429 421h1v2h-1zM429 417h1v2h-1zM429 413h1v2h-1zM429 409h1v2h-1zM429 405h1v2h-1zM429 401h1v2h-1zM429 397h1v2h-1zM429 393h1v2h-1zM429 389h1v2h-1zM429 385h1v2h-1zM429 381h1v2h-1zM429 377h1v2h-1zM429 373h1v2h-1zM429 369h1v2h-1zM429 365h1v2h-1zM429 361h1v2h-1zM429 357h1v2h-1zM429 353h1v2h-1zM429 349h1v2h-1zM429 345h1v2h-1zM429 341h1v2h-1zM429 337h1v2h-1zM429 333h1v2h-1zM429 329h1v2h-1zM429 325h1v2h-1zM429 321h1v2h-1zM429 317h1v2h-1zM429 313h1v2h-1zM429 309h1v2h-1zM429 305h1v2h-1zM429 301h1v2h-1zM429 297h1v2h-1zM429 293h1v2h-1zM429 289h1v2h-1zM429 285h1v2h-1zM429 281h1v2h-1zM429 277h1v2h-1zM429 273h1v2h-1zM429 269h1v2h-1zM429 265h1v2h-1zM429 261h1v2h-1zM429 257h1v2h-1zM429 253h1v2h-1zM429 249h1v2h-1zM429 245h1v2h-1zM429 241h1v2h-1zM429 237h1v2h-1zM429 233h1v2h-1zM429 229h1v2h-1zM429 225h1v2h-1zM429 221h1v2h-1zM429 217h1v2h-1zM429 213h1v2h-1zM429 209h1v2h-1zM429 205h1v2h-1zM429 201h1v2h-1zM429 197h1v2h-1zM429 193h1v2h-1zM429 189h1v2h-1zM429 185h1v2h-1zM429 181h1v2h-1zM429 177h1v2h-1zM429 173h1v2h-1zM429 169h1v2h-1zM429 165h1v2h-1zM429 161h1v2h-1zM429 157h1v2h-1zM429 153h1v2h-1zM429 149h1v2h-1zM429 145h1v2h-1zM429 141h1v2h-1zM429 137h1v2h-1zM429 133h1v2h-1zM429 129h1v2h-1zM429 125h1v2h-1zM429 121h1v2h-1zM429 117h1v2h-1zM429 113h1v2h-1zM429 109h1v2h-1zM429 105h1v2h-1zM429 101h1v2h-1zM429 97h1v2h-1zM429 93h1v2h-1zM429 89h1v2h-1zM429 85h1v2h-1zM429 81h1v2h-1zM429 77h1v2h-1zM429 73h1v2h-1zM429 69h1v2h-1zM429 65h1v2h-1zM429 61h1v2h-1zM429 57h1v2h-1zM429 53h1v2h-1zM429 49h1v2h-1zM429 45h1v2h-1zM429 41h1v2h-1zM429 40h1v2h-1zM450 433h1v2h-1zM450 429h1v2h-1zM450 425h1v2h-1zM450 421h1v2h-1zM450 417h1v2h-1zM450 413h1v2h-1zM450 409h1v2h-1zM450 405h1v2h-1zM450 401h1v2h-1zM450 397h1v2h-1zM450 393h1v2h-1zM450 389h1v2h-1zM450 385h1v2h-1zM450 381h1v2h-1zM450 377h1v2h-1zM450 373h1v2h-1zM450 369h1v2h-1zM450 365h1v2h-1zM450 361h1v2h-1zM450 357h1v2h-1zM450 353h1v2h-1zM450 349h1v2h-1zM450 345h1v2h-1zM450 341h1v2h-1zM450 337h1v2h-1zM450 333h1v2h-1zM450 329h1v2h-1zM450 325h1v2h-1zM450 321h1v2h-1zM450 317h1v2h-1zM450 313h1v2h-1zM450 309h1v2h-1zM450 305h1v2h-1zM450 301h1v2h-1zM450 297h1v2h-1zM450 293h1v2h-1zM450 289h1v2h-1zM450 285h1v2h-1zM450 281h1v2h-1zM450 277h1v2h-1zM450 273h1v2h-1zM450 269h1v2h-1zM450 265h1v2h-1zM450 261h1v2h-1zM450 257h1v2h-1zM450 253h1v2h-1zM450 249h1v2h-1zM450 245h1v2h-1zM450 241h1v2h-1zM450 237h1v2h-1zM450 233h1v2h-1zM450 229h1v2h-1zM450 225h1v2h-1zM450 221h1v2h-1zM450 217h1v2h-1zM450 213h1v2h-1zM450 209h1v2h-1zM450 205h1v2h-1zM450 201h1v2h-1zM450 197h1v2h-1zM450 193h1v2h-1zM450 189h1v2h-1zM450 185h1v2h-1zM450 181h1v2h-1zM450 177h1v2h-1zM450 173h1v2h-1zM450 169h1v2h-1zM450 165h1v2h-1zM450 161h1v2h-1zM450 157h1v2h-1zM450 153h1v2h-1zM450 149h1v2h-1zM450 145h1v2h-1zM450 141h1v2h-1zM450 137h1v2h-1zM450 133h1v2h-1zM450 129h1v2h-1zM450 125h1v2h-1zM450 121h1v2h-1zM450 117h1v2h-1zM450 113h1v2h-1zM450 109h1v2h-1zM450 105h1v2h-1zM450 101h1v2h-1zM450 97h1v2h-1zM450 93h1v2h-1zM450 89h1v2h-1zM450 85h1v2h-1zM450 81h1v2h-1zM450 77h1v2h-1zM450 73h1v2h-1zM450 69h1v2h-1zM450 65h1v2h-1zM450 61h1v2h-1zM450 57h1v2h-1zM450 53h1v2h-1zM450 49h1v2h-1zM450 45h1v2h-1zM450 41h1v2h-1zM450 40h1v2h-1zM470 433h1v2h-1zM470 429h1v2h-1zM470 425h1v2h-1zM470 421h1v2h-1zM470 417h1v2h-1zM470 413h1v2h-1zM470 409h1v2h-1zM470 405h1v2h-1zM470 401h1v2h-1zM470 397h1v2h-1zM470 393h1v2h-1zM470 389h1v2h-1zM470 385h1v2h-1zM470 381h1v2h-1zM470 377h1v2h-1zM470 373h1v2h-1zM470 369h1v2h-1zM470 365h1v2h-1zM470 361h1v2h-1zM470 357h1v2h-1zM470 353h1v2h-1zM470 349h1v2h-1zM470 345h1v2h-1zM470 341h1v2h-1zM470 337h1v2h-1zM470 333h1v2h-1zM470 329h1v2h-1zM470 325h1v2h-1zM470 321h1v2h-1zM470 317h1v2h-1zM470 313h1v2h-1zM470 309h1v2h-1zM470 305h1v2h-1zM470 301h1v2h-1zM470 297h1v2h-1zM470 293h1v2h-1zM470 289h1v2h-1zM470 285h1v2h-1zM470 281h1v2h-1zM470 277h1v2h-1zM470 273h1v2h-1zM470 269h1v2h-1zM470 265h1v2h-1zM470 261h1v2h-1zM470 257h1v2h-1zM470 253h1v2h-1zM470 249h1v2h-1zM470 245h1v2h-1zM470 241h1v2h-1zM470 237h1v2h-1zM470 233h1v2h-1zM470 229h1v2h-1zM470 225h1v2h-1zM470 221h1v2h-1zM470 217h1v2h-1zM470 213h1v2h-1zM470 209h1v2h-1zM470 205h1v2h-1zM470 201h1v2h-1zM470 197h1v2h-1zM470 193h1v2h-1zM470 189h1v2h-1zM470 185h1v2h-1zM470 181h1v2h-1zM470 177h1v2h-1zM470 173h1v2h-1zM470 169h1v2h-1zM470 165h1v2h-1zM470 161h1v2h-1zM470 157h1v2h-1zM470 153h1v2h-1zM470 149h1v2h-1zM470 145h1v2h-1zM470 141h1v2h-1zM470 137h1v2h-1zM470 133h1v2h-1zM470 129h1v2h-1zM470 125h1v2h-1zM470 121h1v2h-1zM470 117h1v2h-1zM470 113h1v2h-1zM470 109h1v2h-1zM470 105h1v2h-1zM470 101h1v2h-1zM470 97h1v2h-1zM470 93h1v2h-1zM470 89h1v2h-1zM470 85h1v2h-1zM470 81h1v2h-1zM470 77h1v2h-1zM470 73h1v2h-1zM470 69h1v2h-1zM470 65h1v2h-1zM470 61h1v2h-1zM470 57h1v2h-1zM470 53h1v2h-1zM470 49h1v2h-1zM470 45h1v2h-1zM470 41h1v2h-1zM470 40h1v2h-1zM491 433h1v2h-1zM491 429h1v2h-1zM491 425h1v2h-1zM491 421h1v2h-1zM491 417h1v2h-1zM491 413h1v2h-1zM491 409h1v2h-1zM491 405h1v2h-1zM491 401h1v2h-1zM491 397h1v2h-1zM491 393h1v2h-1zM491 389h1v2h-1zM491 385h1v2h-1zM491 381h1v2h-1zM491 377h1v2h-1zM491 373h1v2h-1zM491 369h1v2h-1zM491 365h1v2h-1zM491 361h1v2h-1zM491 357h1v2h-1zM491 353h1v2h-1zM491 349h1v2h-1zM491 345h1v2h-1zM491 341h1v2h-1zM491 337h1v2h-1zM491 333h1v2h-1zM491 329h1v2h-1zM491 325h1v2h-1zM491 321h1v2h-1zM491 317h1v2h-1zM491 313h1v2h-1zM491 309h1v2h-1zM491 305h1v2h-1zM491 301h1v2h-1zM491 297h1v2h-1zM491 293h1v2h-1zM491 289h1v2h-1zM491 285h1v2h-1zM491 281h1v2h-1zM491 277h1v2h-1zM491 273h1v2h-1zM491 269h1v2h-1zM491 265h1v2h-1zM491 261h1v2h-1zM491 257h1v2h-1zM491 253h1v2h-1zM491 249h1v2h-1zM491 245h1v2h-1zM491 241h1v2h-1zM491 237h1v2h-1zM491 233h1v2h-1zM491 229h1v2h-1zM491 225h1v2h-1zM491 221h1v2h-1zM491 217h1v2h-1zM491 213h1v2h-1zM491 209h1v2h-1zM491 205h1v2h-1zM491 201h1v2h-1zM491 197h1v2h-1zM491 193h1v2h-1zM491 189h1v2h-1zM491 185h1v2h-1zM491 181h1v2h-1zM491 177h1v2h-1zM491 173h1v2h-1zM491 169h1v2h-1zM491 165h1v2h-1zM491 161h1v2h-1zM491 157h1v2h-1zM491 153h1v2h-1zM491 149h1v2h-1zM491 145h1v2h-1zM491 141h1v2h-1zM491 137h1v2h-1zM491 133h1v2h-1zM491 129h1v2h-1zM491 125h1v2h-1zM491 121h1v2h-1zM491 117h1v2h-1zM491 113h1v2h-1zM491 109h1v2h-1zM491 105h1v2h-1zM491 101h1v2h-1zM491 97h1v2h-1zM491 93h1v2h-1zM491 89h1v2h-1zM491 85h1v2h-1zM491 81h1v2h-1zM491 77h1v2h-1zM491 73h1v2h-1zM491 69h1v2h-1zM491 65h1v2h-1zM491 61h1v2h-1zM491 57h1v2h-1zM491 53h1v2h-1zM491 49h1v2h-1zM491 45h1v2h-1zM491 41h1v2h-1zM491 40h1v2h-1zM512 433h1v2h-1zM512 429h1v2h-1zM512 425h1v2h-1zM512 421h1v2h-1zM512 417h1v2h-1zM512 413h1v2h-1zM512 409h1v2h-1zM512 405h1v2h-1zM512 401h1v2h-1zM512 397h1v2h-1zM512 393h1v2h-1zM512 389h1v2h-1zM512 385h1v2h-1zM512 381h1v2h-1zM512 377h1v2h-1zM512 373h1v2h-1zM512 369h1v2h-1zM512 365h1v2h-1zM512 361h1v2h-1zM512 357h1v2h-1zM512 353h1v2h-1zM512 349h1v2h-1zM512 345h1v2h-1zM512 341h1v2h-1zM512 337h1v2h-1zM512 333h1v2h-1zM512 329h1v2h-1zM512 325h1v2h-1zM512 321h1v2h-1zM512 317h1v2h-1zM512 313h1v2h-1zM512 309h1v2h-1zM512 305h1v2h-1zM512 301h1v2h-1zM512 297h1v2h-1zM512 293h1v2h-1zM512 289h1v2h-1zM512 285h1v2h-1zM512 281h1v2h-1zM512 277h1v2h-1zM512 273h1v2h-1zM512 269h1v2h-1zM512 265h1v2h-1zM512 261h1v2h-1zM512 257h1v2h-1zM512 253h1v2h-1zM512 249h1v2h-1zM512 245h1v2h-1zM512 241h1v2h-1zM512 237h1v2h-1zM512 233h1v2h-1zM512 229h1v2h-1zM512 225h1v2h-1zM512 221h1v2h-1zM512 217h1v2h-1zM512 213h1v2h-1zM512 209h1v2h-1zM512 205h1v2h-1zM512 201h1v2h-1zM512 197h1v2h-1zM512 193h1v2h-1zM512 189h1v2h-1zM512 185h1v2h-1zM512 181h1v2h-1zM512 177h1v2h-1zM512 173h1v2h-1zM512 169h1v2h-1zM512 165h1v2h-1zM512 161h1v2h-1zM512 157h1v2h-1zM512 153h1v2h-1zM512 149h1v2h-1zM512 145h1v2h-1zM512 141h1v2h-1zM512 137h1v2h-1zM512 133h1v2h-1zM512 129h1v2h-1zM512 125h1v2h-1zM512 121h1v2h-1zM512 117h1v2h-1zM512 113h1v2h-1zM512 109h1v2h-1zM512 105h1v2h-1zM512 101h1v2h-1zM512 97h1v2h-1zM512 93h1v2h-1zM512 89h1v2h-1zM512 85h1v2h-1zM512 81h1v2h-1zM512 77h1v2h-1zM512 73h1v2h-1zM512 69h1v2h-1zM512 65h1v2h-1zM512 61h1v2h-1zM512 57h1v2h-1zM512 53h1v2h-1zM512 49h1v2h-1zM512 45h1v2h-1zM512 41h1v2h-1zM512 40h1v2h-1zM533 433h1v2h-1zM533 429h1v2h-1zM533 425h1v2h-1zM533 421h1v2h-1zM533 417h1v2h-1zM533 413h1v2h-1zM533 409h1v2h-1zM533 405h1v2h-1zM533 401h1v2h-1zM533 397h1v2h-1zM533 393h1v2h-1zM533 389h1v2h-1zM533 385h1v2h-1zM533 381h1v2h-1zM533 377h1v2h-1zM533 373h1v2h-1zM533 369h1v2h-1zM533 365h1v2h-1zM533 361h1v2h-1zM533 357h1v2h-1zM533 353h1v2h-1zM533 349h1v2h-1zM533 345h1v2h-1zM533 341h1v2h-1zM533 337h1v2h-1zM533 333h1v2h-1zM533 329h1v2h-1zM533 325h1v2h-1zM533 321h1v2h-1zM533 317h1v2h-1zM533 313h1v2h-1zM533 309h1v2h-1zM533 305h1v2h-1zM533 301h1v2h-1zM533 297h1v2h-1zM533 293h1v2h-1zM533 289h1v2h-1zM533 285h1v2h-1zM533 281h1v2h-1zM533 277h1v2h-1zM533 273h1v2h-1zM533 269h1v2h-1zM533 265h1v2h-1zM533 261h1v2h-1zM533 257h1v2h-1zM533 253h1v2h-1zM533 249h1v2h-1zM533 245h1v2h-1zM533 241h1v2h-1zM533 237h1v2h-1zM533 233h1v2h-1zM533 229h1v2h-1zM533 225h1v2h-1zM533 221h1v2h-1zM533 217h1v2h-1zM533 213h1v2h-1zM533 209h1v2h-1zM533 205h1v2h-1zM533 201h1v2h-1zM533 197h1v2h-1zM533 193h1v2h-1zM533 189h1v2h-1zM533 185h1v2h-1zM533 181h1v2h-1zM533 177h1v2h-1zM533 173h1v2h-1zM533 169h1v2h-1zM533 165h1v2h-1zM533 161h1v2h-1zM533 157h1v2h-1zM533 153h1v2h-1zM533 149h1v2h-1zM533 145h1v2h-1zM533 141h1v2h-1zM533 137h1v2h-1zM533 133h1v2h-1zM533 129h1v2h-1zM533 125h1v2h-1zM533 121h1v2h-1zM533 117h1v2h-1zM533 113h1v2h-1zM533 109h1v2h-1zM533 105h1v2h-1zM533 101h1v2h-1zM533 97h1v2h-1zM533 93h1v2h-1zM533 89h1v2h-1zM533 85h1v2h-1zM533 81h1v2h-1zM533 77h1v2h-1zM533 73h1v2h-1zM533 69h1v2h-1zM533 65h1v2h-1zM533 61h1v2h-1zM533 57h1v2h-1zM533 53h1v2h-1zM533 49h1v2h-1zM533 45h1v2h-1zM533 41h1v2h-1zM533 40h1v2h-1zM553 433h1v2h-1zM553 429h1v2h-1zM553 425h1v2h-1zM553 421h1v2h-1zM553 417h1v2h-1zM553 413h1v2h-1zM553 409h1v2h-1zM553 405h1v2h-1zM553 401h1v2h-1zM553 397h1v2h-1zM553 393h1v2h-1zM553 389h1v2h-1zM553 385h1v2h-1zM553 381h1v2h-1zM553 377h1v2h-1zM553 373h1v2h-1zM553 369h1v2h-1zM553 365h1v2h-1zM553 361h1v2h-1zM553 357h1v2h-1zM553 353h1v2h-1zM553 349h1v2h-1zM553 345h1v2h-1zM553 341h1v2h-1zM553 337h1v2h-1zM553 333h1v2h-1zM553 329h1v2h-1zM553 325h1v2h-1zM553 321h1v2h-1zM553 317h1v2h-1zM553 313h1v2h-1zM553 309h1v2h-1zM553 305h1v2h-1zM553 301h1v2h-1zM553 297h1v2h-1zM553 293h1v2h-1zM553 289h1v2h-1zM553 285h1v2h-1zM553 281h1v2h-1zM553 277h1v2h-1zM553 273h1v2h-1zM553 269h1v2h-1zM553 265h1v2h-1zM553 261h1v2h-1zM553 257h1v2h-1zM553 253h1v2h-1zM553 249h1v2h-1zM553 245h1v2h-1zM553 241h1v2h-1zM553 237h1v2h-1zM553 233h1v2h-1zM553 229h1v2h-1zM553 225h1v2h-1zM553 221h1v2h-1zM553 217h1v2h-1zM553 213h1v2h-1zM553 209h1v2h-1zM553 205h1v2h-1zM553 201h1v2h-1zM553 197h1v2h-1zM553 193h1v2h-1zM553 189h1v2h-1zM553 185h1v2h-1zM553 181h1v2h-1zM553 177h1v2h-1zM553 173h1v2h-1zM553 169h1v2h-1zM553 165h1v2h-1zM553 161h1v2h-1zM553 157h1v2h-1zM553 153h1v2h-1zM553 149h1v2h-1zM553 145h1v2h-1zM553 141h1v2h-1zM553 137h1v2h-1zM553 133h1v2h-1zM553 129h1v2h-1zM553 125h1v2h-1zM553 121h1v2h-1zM553 117h1v2h-1zM553 113h1v2h-1zM553 109h1v2h-1zM553 105h1v2h-1zM553 101h1v2h-1zM553 97h1v2h-1zM553 93h1v2h-1zM553 89h1v2h-1zM553 85h1v2h-1zM553 81h1v2h-1zM553 77h1v2h-1zM553 73h1v2h-1zM553 69h1v2h-1zM553 65h1v2h-1zM553 61h1v2h-1zM553 57h1v2h-1zM553 53h1v2h-1zM553 49h1v2h-1zM553 45h1v2h-1zM553 41h1v2h-1zM553 40h1v2h-1zM574 433h1v2h-1zM574 429h1v2h-1zM574 425h1v2h-1zM574 421h1v2h-1zM574 417h1v2h-1zM574 413h1v2h-1zM574 409h1v2h-1zM574 405h1v2h-1zM574 401h1v2h-1zM574 397h1v2h-1zM574 393h1v2h-1zM574 389h1v2h-1zM574 385h1v2h-1zM574 381h1v2h-1zM574 377h1v2h-1zM574 373h1v2h-1zM574 369h1v2h-1zM574 365h1v2h-1zM574 361h1v2h-1zM574 357h1v2h-1zM574 353h1v2h-1zM574 349h1v2h-1zM574 345h1v2h-1zM574 341h1v2h-1zM574 337h1v2h-1zM574 333h1v2h-1zM574 329h1v2h-1zM574 325h1v2h-1zM574 321h1v2h-1zM574 317h1v2h-1zM574 313h1v2h-1zM574 309h1v2h-1zM574 305h1v2h-1zM574 301h1v2h-1zM574 297h1v2h-1zM574 293h1v2h-1zM574 289h1v2h-1zM574 285h1v2h-1zM574 281h1v2h-1zM574 277h1v2h-1zM574 273h1v2h-1zM574 269h1v2h-1zM574 265h1v2h-1zM574 261h1v2h-1zM574 257h1v2h-1zM574 253h1v2h-1zM574 249h1v2h-1zM574 245h1v2h-1zM574 241h1v2h-1zM574 237h1v2h-1zM574 233h1v2h-1zM574 229h1v2h-1zM574 225h1v2h-1zM574 221h1v2h-1zM574 217h1v2h-1zM574 213h1v2h-1zM574 209h1v2h-1zM574 205h1v2h-1zM574 201h1v2h-1zM574 197h1v2h-1zM574 193h1v2h-1zM574 189h1v2h-1zM574 185h1v2h-1zM574 181h1v2h-1zM574 177h1v2h-1zM574 173h1v2h-1zM574 169h1v2h-1zM574 165h1v2h-1zM574 161h1v2h-1zM574 157h1v2h-1zM574 153h1v2h-1zM574 149h1v2h-1zM574 145h1v2h-1zM574 141h1v2h-1zM574 137h1v2h-1zM574 133h1v2h-1zM574 129h1v2h-1zM574 125h1v2h-1zM574 121h1v2h-1zM574 117h1v2h-1zM574 113h1v2h-1zM574 109h1v2h-1zM574 105h1v2h-1zM574 101h1v2h-1zM574 97h1v2h-1zM574 93h1v2h-1zM574 89h1v2h-1zM574 85h1v2h-1zM574 81h1v2h-1zM574 77h1v2h-1zM574 73h1v2h-1zM574 69h1v2h-1zM574 65h1v2h-1zM574 61h1v2h-1zM574 57h1v2h-1zM574 53h1v2h-1zM574 49h1v2h-1zM574 45h1v2h-1zM574 41h1v2h-1zM574 40h1v2h-1zM595 433h1v2h-1zM595 429h1v2h-1zM595 425h1v2h-1zM595 421h1v2h-1zM595 417h1v2h-1zM595 413h1v2h-1zM595 409h1v2h-1zM595 405h1v2h-1zM595 401h1v2h-1zM595 397h1v2h-1zM595 393h1v2h-1zM595 389h1v2h-1zM595 385h1v2h-1zM595 381h1v2h-1zM595 377h1v2h-1zM595 373h1v2h-1zM595 369h1v2h-1zM595 365h1v2h-1zM595 361h1v2h-1zM595 357h1v2h-1zM595 353h1v2h-1zM595 349h1v2h-1zM595 345h1v2h-1zM595 341h1v2h-1zM595 337h1v2h-1zM595 333h1v2h-1zM595 329h1v2h-1zM595 325h1v2h-1zM595 321h1v2h-1zM595 317h1v2h-1zM595 313h1v2h-1zM595 309h1v2h-1zM595 305h1v2h-1zM595 301h1v2h-1zM595 297h1v2h-1zM595 293h1v2h-1zM595 289h1v2h-1zM595 285h1v2h-1zM595 281h1v2h-1zM595 277h1v2h-1zM595 273h1v2h-1zM595 269h1v2h-1zM595 265h1v2h-1zM595 261h1v2h-1zM595 257h1v2h-1zM595 253h1v2h-1zM595 249h1v2h-1zM595 245h1v2h-1zM595 241h1v2h-1zM595 237h1v2h-1zM595 233h1v2h-1zM595 229h1v2h-1zM595 225h1v2h-1zM595 221h1v2h-1zM595 217h1v2h-1zM595 213h1v2h-1zM595 209h1v2h-1zM595 205h1v2h-1zM595 201h1v2h-1zM595 197h1v2h-1zM595 193h1v2h-1zM595 189h1v2h-1zM595 185h1v2h-1zM595 181h1v2h-1zM595 177h1v2h-1zM595 173h1v2h-1zM595 169h1v2h-1zM595 165h1v2h-1zM595 161h1v2h-1zM595 157h1v2h-1zM595 153h1v2h-1zM595 149h1v2h-1zM595 145h1v2h-1zM595 141h1v2h-1zM595 137h1v2h-1zM595 133h1v2h-1zM595 129h1v2h-1zM595 125h1v2h-1zM595 121h1v2h-1zM595 117h1v2h-1zM595 113h1v2h-1zM595 109h1v2h-1zM595 105h1v2h-1zM595 101h1v2h-1zM595 97h1v2h-1zM595 93h1v2h-1zM595 89h1v2h-1zM595 85h1v2h-1zM595 81h1v2h-1zM595 77h1v2h-1zM595 73h1v2h-1zM595 69h1v2h-1zM595 65h1v2h-1zM595 61h1v2h-1zM595 57h1v2h-1zM595 53h1v2h-1zM595 49h1v2h-1zM595 45h1v2h-1zM595 41h1v2h-1zM595 40h1v2h-1zM616 433h1v2h-1zM616 429h1v2h-1zM616 425h1v2h-1zM616 421h1v2h-1zM616 417h1v2h-1zM616 413h1v2h-1zM616 409h1v2h-1zM616 405h1v2h-1zM616 401h1v2h-1zM616 397h1v2h-1zM616 393h1v2h-1zM616 389h1v2h-1zM616 385h1v2h-1zM616 381h1v2h-1zM616 377h1v2h-1zM616 373h1v2h-1zM616 369h1v2h-1zM616 365h1v2h-1zM616 361h1v2h-1zM616 357h1v2h-1zM616 353h1v2h-1zM616 349h1v2h-1zM616 345h1v2h-1zM616 341h1v2h-1zM616 337h1v2h-1zM616 333h1v2h-1zM616 329h1v2h-1zM616 325h1v2h-1zM616 321h1v2h-1zM616 317h1v2h-1zM616 313h1v2h-1zM616 309h1v2h-1zM616 305h1v2h-1zM616 301h1v2h-1zM616 297h1v2h-1zM616 293h1v2h-1zM616 289h1v2h-1zM616 285h1v2h-1zM616 281h1v2h-1zM616 277h1v2h-1zM616 273h1v2h-1zM616 269h1v2h-1zM616 265h1v2h-1zM616 261h1v2h-1zM616 257h1v2h-1zM616 253h1v2h-1zM616 249h1v2h-1zM616 245h1v2h-1zM616 241h1v2h-1zM616 237h1v2h-1zM616 233h1v2h-1zM616 229h1v2h-1zM616 225h1v2h-1zM616 221h1v2h-1zM616 217h1v2h-1zM616 213h1v2h-1zM616 209h1v2h-1zM616 205h1v2h-1zM616 201h1v2h-1zM616 197h1v2h-1zM616 193h1v2h-1zM616 189h1v2h-1zM616 185h1v2h-1zM616 181h1v2h-1zM616 177h1v2h-1zM616 173h1v2h-1zM616 169h1v2h-1zM616 165h1v2h-1zM616 161h1v2h-1zM616 157h1v2h-1zM616 153h1v2h-1zM616 149h1v2h-1zM616 145h1v2h-1zM616 141h1v2h-1zM616 137h1v2h-1zM616 133h1v2h-1zM616 129h1v2h-1zM616 125h1v2h-1zM616 121h1v2h-1zM616 117h1v2h-1zM616 113h1v2h-1zM616 109h1v2h-1zM616 105h1v2h-1zM616 101h1v2h-1zM616 97h1v2h-1zM616 93h1v2h-1zM616 89h1v2h-1zM616 85h1v2h-1zM616 81h1v2h-1zM616 77h1v2h-1zM616 73h1v2h-1zM616 69h1v2h-1zM616 65h1v2h-1zM616 61h1v2h-1zM616 57h1v2h-1zM616 53h1v2h-1zM616 49h1v2h-1zM616 45h1v2h-1zM616 41h1v2h-1zM616 40h1v2h-1zM636 433h1v2h-1zM636 429h1v2h-1zM636 425h1v2h-1zM636 421h1v2h-1zM636 417h1v2h-1zM636 413h1v2h-1zM636 409h1v2h-1zM636 405h1v2h-1zM636 401h1v2h-1zM636 397h1v2h-1zM636 393h1v2h-1zM636 389h1v2h-1zM636 385h1v2h-1zM636 381h1v2h-1zM636 377h1v2h-1zM636 373h1v2h-1zM636 369h1v2h-1zM636 365h1v2h-1zM636 361h1v2h-1zM636 357h1v2h-1zM636 353h1v2h-1zM636 349h1v2h-1zM636 345h1v2h-1zM636 341h1v2h-1zM636 337h1v2h-1zM636 333h1v2h-1zM636 329h1v2h-1zM636 325h1v2h-1zM636 321h1v2h-1zM636 317h1v2h-1zM636 313h1v2h-1zM636 309h1v2h-1zM636 305h1v2h-1zM636 301h1v2h-1zM636 297h1v2h-1zM636 293h1v2h-1zM636 289h1v2h-1zM636 285h1v2h-1zM636 281h1v2h-1zM636 277h1v2h-1zM636 273h1v2h-1zM636 269h1v2h-1zM636 265h1v2h-1zM636 261h1v2h-1zM636 257h1v2h-1zM636 253h1v2h-1zM636 249h1v2h-1zM636 245h1v2h-1zM636 241h1v2h-1zM636 237h1v2h-1zM636 233h1v2h-1zM636 229h1v2h-1zM636 225h1v2h-1zM636 221h1v2h-1zM636 217h1v2h-1zM636 213h1v2h-1zM636 209h1v2h-1zM636 205h1v2h-1zM636 201h1v2h-1zM636 197h1v2h-1zM636 193h1v2h-1zM636 189h1v2h-1zM636 185h1v2h-1zM636 181h1v2h-1zM636 177h1v2h-1zM636 173h1v2h-1zM636 169h1v2h-1zM636 165h1v2h-1zM636 161h1v2h-1zM636 157h1v2h-1zM636 153h1v2h-1zM636 149h1v2h-1zM636 145h1v2h-1zM636 141h1v2h-1zM636 137h1v2h-1zM636 133h1v2h-1zM636 129h1v2h-1zM636 125h1v2h-1zM636 121h1v2h-1zM636 117h1v2h-1zM636 113h1v2h-1zM636 109h1v2h-1zM636 105h1v2h-1zM636 101h1v2h-1zM636 97h1v2h-1zM636 93h1v2h-1zM636 89h1v2h-1zM636 85h1v2h-1zM636 81h1v2h-1zM636 77h1v2h-1zM636 73h1v2h-1zM636 69h1v2h-1zM636 65h1v2h-1zM636 61h1v2h-1zM636 57h1v2h-1zM636 53h1v2h-1zM636 49h1v2h-1zM636 45h1v2h-1zM636 41h1v2h-1zM636 40h1v2h-1zM657 433h1v2h-1zM657 429h1v2h-1zM657 425h1v2h-1zM657 421h1v2h-1zM657 417h1v2h-1zM657 413h1v2h-1zM657 409h1v2h-1zM657 405h1v2h-1zM657 401h1v2h-1zM657 397h1v2h-1zM657 393h1v2h-1zM657 389h1v2h-1zM657 385h1v2h-1zM657 381h1v2h-1zM657 377h1v2h-1zM657 373h1v2h-1zM657 369h1v2h-1zM657 365h1v2h-1zM657 361h1v2h-1zM657 357h1v2h-1zM657 353h1v2h-1zM657 349h1v2h-1zM657 345h1v2h-1zM657 341h1v2h-1zM657 337h1v2h-1zM657 333h1v2h-1zM657 329h1v2h-1zM657 325h1v2h-1zM657 321h1v2h-1zM657 317h1v2h-1zM657 313h1v2h-1zM657 309h1v2h-1zM657 305h1v2h-1zM657 301h1v2h-1zM657 297h1v2h-1zM657 293h1v2h-1zM657 289h1v2h-1zM657 285h1v2h-1zM657 281h1v2h-1zM657 277h1v2h-1zM657 273h1v2h-1zM657 269h1v2h-1zM657 265h1v2h-1zM657 261h1v2h-1zM657 257h1v2h-1zM657 253h1v2h-1zM657 249h1v2h-1zM657 245h1v2h-1zM657 241h1v2h-1zM657 237h1v2h-1zM657 233h1v2h-1zM657 229h1v2h-1zM657 225h1v2h-1zM657 221h1v2h-1zM657 217h1v2h-1zM657 213h1v2h-1zM657 209h1v2h-1zM657 205h1v2h-1zM657 201h1v2h-1zM657 197h1v2h-1zM657 193h1v2h-1zM657 189h1v2h-1zM657 185h1v2h-1zM657 181h1v2h-1zM657 177h1v2h-1zM657 173h1v2h-1zM657 169h1v2h-1zM657 165h1v2h-1zM657 161h1v2h-1zM657 157h1v2h-1zM657 153h1v2h-1zM657 149h1v2h-1zM657 145h1v2h-1zM657 141h1v2h-1zM657 137h1v2h-1zM657 133h1v2h-1zM657 129h1v2h-1zM657 125h1v2h-1zM657 121h1v2h-1zM657 117h1v2h-1zM657 113h1v2h-1zM657 109h1v2h-1zM657 105h1v2h-1zM657 101h1v2h-1zM657 97h1v2h-1zM657 93h1v2h-1zM657 89h1v2h-1zM657 85h1v2h-1zM657 81h1v2h-1zM657 77h1v2h-1zM657 73h1v2h-1zM657 69h1v2h-1zM657 65h1v2h-1zM657 61h1v2h-1zM657 57h1v2h-1zM657 53h1v2h-1zM657 49h1v2h-1zM657 45h1v2h-1zM657 41h1v2h-1zM657 40h1v2h-1z" fill="#999999"/>
<rect x="56" y="42" width="622" height="15" fill="#f2f2f2"/>
<defs><pattern id="h" patternUnits="userSpaceOnUse" width="8" height="8"><path d="M0 0h1v1h-1zM1 1h1v1h-1zM2 2h1v1h-1zM3 3h1v1h-1zM4 4h1v1h-1zM5 5h1v1h-1zM6 6h1v1h-1zM7 7h1v1h-1z" fill="#0a44b0"/></pattern><clipPath id="pc"><rect x="55" y="39" width="623" height="396"/></clipPath></defs>
<g clip-path="url(#pc)"><path d="M67 151h18v284h-18zM88 377h18v58h-18zM109 297h18v138h-18zM130 378h17v57h-17zM151 340h17v95h-17zM171 171h18v264h-18zM192 406h18v29h-18zM213 374h17v61h-17zM234 176h17v259h-17zM254 312h18v123h-18zM275 263h18v172h-18zM296 324h18v111h-18zM317 224h17v211h-17zM337 88h18v347h-18zM358 335h18v100h-18zM379 281h18v154h-18zM400 249h17v186h-17zM420 223h18v212h-18zM441 341h18v94h-18zM462 427h18v8h-18zM483 409h17v26h-17zM504 424h17v11h-17zM524 380h18v55h-18zM545 405h18v30h-18zM566 425h17v10h-17zM587 374h17v61h-17zM607 373h18v62h-18zM628 421h18v14h-18zM649 414h18v21h-18zM670 366h17v69h-17z" fill="#f2f2f2"/><path d="M67 151h18v284h-18zM88 377h18v58h-18zM109 297h18v138h-18zM130 378h17v57h-17zM151 340h17v95h-17zM171 171h18v264h-18zM192 406h18v29h-18zM213 374h17v61h-17zM234 176h17v259h-17zM254 312h18v123h-18zM275 263h18v172h-18zM296 324h18v111h-18zM317 224h17v211h-17zM337 88h18v347h-18zM358 335h18v100h-18zM379 281h18v154h-18zM400 249h17v186h-17zM420 223h18v212h-18zM441 341h18v94h-18zM462 427h18v8h-18zM483 409h17v26h-17zM504 424h17v11h-17zM524 380h18v55h-18zM545 405h18v30h-18zM566 425h17v10h-17zM587 374h17v61h-17zM607 373h18v62h-18zM628 421h18v14h-18zM649 414h18v21h-18zM670 366h17v69h-17z" fill="url(#h)"/><path d="M67 151h18v1h-18zM67 151h1v284h-1zM84 151h1v284h-1zM88 377h18v1h-18zM88 377h1v58h-1zM105 377h1v58h-1zM109 297h18v1h-18zM109 297h1v138h-1zM126 297h1v138h-1zM130 378h17v1h-17zM130 378h1v57h-1zM146 378h1v57h-1zM151 340h17v1h-17zM151 340h1v95h-1zM167 340h1v95h-1zM171 171h18v1h-18zM171 171h1v264h-1zM188 171h1v264h-1zM192 406h18v1h-18zM192 406h1v29h-1zM209 406h1v29h-1zM213 374h17v1h-17zM213 374h1v61h-1zM229 374h1v61h-1zM234 176h17v1h-17zM234 176h1v259h-1zM250 176h1v259h-1zM254 312h18v1h-18zM254 312h1v123h-1zM271 312h1v123h-1zM275 263h18v1h-18zM275 263h1v172h-1zM292 263h1v172h-1zM296 324h18v1h-18zM296 324h1v111h-1zM313 324h1v111h-1zM317 224h17v1h-17zM317 224h1v211h-1zM333 224h1v211h-1zM337 88h18v1h-18zM337 88h1v347h-1zM354 88h1v347h-1zM358 335h18v1h-18zM358 335h1v100h-1zM375 335h1v100h-1zM379 281h18v1h-18zM379 281h1v154h-1zM396 281h1v154h-1zM400 249h17v1h-17zM400 249h1v186h-1zM416 249h1v186h-1zM420 223h18v1h-18zM420 223h1v212h-1zM437 223h1v212h-1zM441 341h18v1h-18zM441 341h1v94h-1zM458 341h1v94h-1zM462 427h18v1h-18zM462 427h1v8h-1zM479 427h1v8h-1zM483 409h17v1h-17zM483 409h1v26h-1zM499 409h1v26h-1zM504 424h17v1h-17zM504 424h1v11h-1zM520 424h1v11h-1zM524 380h18v1h-18zM524 380h1v55h-1zM541 380h1v55h-1zM545 405h18v1h-18zM545 405h1v30h-1zM562 405h1v30h-1zM566 425h17v1h-17zM566 425h1v10h-1zM582 425h1v10h-1zM587 374h17v1h-17zM587 374h1v61h-1zM603 374h1v61h-1zM607 373h18v1h-18zM607 373h1v62h-1zM624 373h1v62h-1zM628 421h18v1h-18zM628 421h1v14h-1zM645 421h1v14h-1zM649 414h18v1h-18zM649 414h1v21h-1zM666 414h1v21h-1zM670 366h17v1h-17zM670 366h1v69h-1zM686 366h1v69h-1z" fill="#0a44b0"/></g>
<path d="M632 47h33v7h-33z" fill="#f2f2f2"/><path d="M632 47h33v7h-33z" fill="url(#h)"/>
<path d="M632 47h33v1h-33zM632 53h33v1h-33zM632 47h1v7h-1zM664 47h1v7h-1z" fill="#0a44b0"/>
<path d="M55 39h624v1h-624zM55 434h624v1h-624zM55 39h1v396h-1zM678 39h1v396h-1zM51 434h4v1h-4zM51 368h4v1h-4zM51 302h4v1h-4zM51 236h4v1h-4zM51 171h4v1h-4zM51 105h4v1h-4zM51 39h4v1h-4zM55 435h1v4h-1zM76 435h1v4h-1zM97 435h1v4h-1zM117 435h1v4h-1zM138 435h1v4h-1zM159 435h1v4h-1zM180 435h1v4h-1zM200 435h1v4h-1zM221 435h1v4h-1zM242 435h1v4h-1zM263 435h1v4h-1zM283 435h1v4h-1zM304 435h1v4h-1zM325 435h1v4h-1zM346 435h1v4h-1zM367 435h1v4h-1zM387 435h1v4h-1zM408 435h1v4h-1zM429 435h1v4h-1zM450 435h1v4h-1zM470 435h1v4h-1zM491 435h1v4h-1zM512 435h1v4h-1zM533 435h1v4h-1zM553 435h1v4h-1zM574 435h1v4h-1zM595 435h1v4h-1zM616 435h1v4h-1zM636 435h1v4h-1zM657 435h1v4h-1zM678 435h1v4h-1z" fill="#000000"/>
<g style="will-change:transform">
<text x="250.00" y="23" font-family="DejaVu Sans, sans-serif" font-size="11" textLength="21.17" lengthAdjust="spacing">Пан</text>
<text x="273.60" y="23" font-family="DejaVu Sans, sans-serif" font-size="11" textLength="45.66" lengthAdjust="spacing">Сатирус</text>
<text x="322.60" y="23" font-family="DejaVu Sans, sans-serif" font-size="11">в</text>
<text x="332.80" y="23" font-family="DejaVu Sans, sans-serif" font-size="11" textLength="43.30" lengthAdjust="spacing">космосе</text>
<text x="381.00" y="23" font-family="DejaVu Sans, sans-serif" font-size="11" textLength="45.91" lengthAdjust="spacing">(Ричард</text>
<text x="430.10" y="23" font-family="DejaVu Sans, sans-serif" font-size="11" textLength="49.72" lengthAdjust="spacing">Уормсер)</text>
<text x="281.20" y="54" font-family="DejaVu Sans, sans-serif" font-size="11" textLength="60.61" lengthAdjust="spacing">Диаграмма</text>
<text x="345.00" y="54" font-family="DejaVu Sans, sans-serif" font-size="11" textLength="40.53" lengthAdjust="spacing">частоты</text>
<text x="390.50" y="54" font-family="DejaVu Sans, sans-serif" font-size="11" textLength="83.62" lengthAdjust="spacing">использования</text>
<text x="479.70" y="54" font-family="DejaVu Sans, sans-serif" font-size="11" textLength="24.15" lengthAdjust="spacing">букв</text>
<text x="512.00" y="54" font-family="DejaVu Sans, sans-serif" font-size="11" textLength="110.43" lengthAdjust="spacing">coollib.net/b/447068</text>
<text x="40" y="438" font-family="DejaVu Sans, sans-serif" font-size="11" text-anchor="end">0</text>
<text x="40" y="372" font-family="DejaVu Sans, sans-serif" font-size="11" text-anchor="end">2</text>
<text x="40" y="306" font-family="DejaVu Sans, sans-serif" font-size="11" text-anchor="end">4</text>
<text x="40" y="240" font-family="DejaVu Sans, sans-serif" font-size="11" text-anchor="end">6</text>
<text x="40" y="175" font-family="DejaVu Sans, sans-serif" font-size="11" text-anchor="end">8</text>
<text x="40" y="109" font-family="DejaVu Sans, sans-serif" font-size="11" text-anchor="end">10</text>
<text x="40" y="43" font-family="DejaVu Sans, sans-serif" font-size="11" text-anchor="end">12</text>
<text x="53.5" y="455" font-family="DejaVu Sans, sans-serif" font-size="11" text-anchor="middle">0</text>
<text x="74.5" y="455" font-family="DejaVu Sans, sans-serif" font-size="11" text-anchor="middle">А</text>
<text x="95.5" y="455" font-family="DejaVu Sans, sans-serif" font-size="11" text-anchor="middle">Б</text>
<text x="115.5" y="455" font-family="DejaVu Sans, sans-serif" font-size="11" text-anchor="middle">В</text>
<text x="136.5" y="455" font-family="DejaVu Sans, sans-serif" font-size="11" text-anchor="middle">Г</text>
<text x="157.5" y="455" font-family="DejaVu Sans, sans-serif" font-size="11" text-anchor="middle">Д</text>
<text x="178.5" y="455" font-family="DejaVu Sans, sans-serif" font-size="11" text-anchor="middle">Е-Ё</text>
<text x="198.5" y="455" font-family="DejaVu Sans, sans-serif" font-size="11" text-anchor="middle">Ж</text>
<text x="219.5" y="455" font-family="DejaVu Sans, sans-serif" font-size="11" text-anchor="middle">З</text>
<text x="240.5" y="455" font-family="DejaVu Sans, sans-serif" font-size="11" text-anchor="middle">И-Й</text>
<text x="261.5" y="455" font-family="DejaVu Sans, sans-serif" font-size="11" text-anchor="middle">К</text>
<text x="281.5" y="455" font-family="DejaVu Sans, sans-serif" font-size="11" text-anchor="middle">Л</text>
<text x="302.5" y="455" font-family="DejaVu Sans, sans-serif" font-size="11" text-anchor="middle">М</text>
<text x="323.5" y="455" font-family="DejaVu Sans, sans-serif" font-size="11" text-anchor="middle">Н</text>
<text x="344.5" y="455" font-family="DejaVu Sans, sans-serif" font-size="11" text-anchor="middle">О</text>
<text x="365.5" y="455" font-family="DejaVu Sans, sans-serif" font-size="11" text-anchor="middle">П</text>
<text x="385.5" y="455" font-family="DejaVu Sans, sans-serif" font-size="11" text-anchor="middle">Р</text>
<text x="406.5" y="455" font-family="DejaVu Sans, sans-serif" font-size="11" text-anchor="middle">С</text>
<text x="427.5" y="455" font-family="DejaVu Sans, sans-serif" font-size="11" text-anchor="middle">Т</text>
<text x="448.5" y="455" font-family="DejaVu Sans, sans-serif" font-size="11" text-anchor="middle">У</text>
<text x="468.5" y="455" font-family="DejaVu Sans, sans-serif" font-size="11" text-anchor="middle">Ф</text>
<text x="489.5" y="455" font-family="DejaVu Sans, sans-serif" font-size="11" text-anchor="middle">Х</text>
<text x="510.5" y="455" font-family="DejaVu Sans, sans-serif" font-size="11" text-anchor="middle">Ц</text>
<text x="531.5" y="455" font-family="DejaVu Sans, sans-serif" font-size="11" text-anchor="middle">Ч</text>
<text x="551.5" y="455" font-family="DejaVu Sans, sans-serif" font-size="11" text-anchor="middle">Ш</text>
<text x="572.5" y="455" font-family="DejaVu Sans, sans-serif" font-size="11" text-anchor="middle">Щ</text>
<text x="593.5" y="455" font-family="DejaVu Sans, sans-serif" font-size="11" text-anchor="middle">Ь-Ъ</text>
<text x="614.5" y="455" font-family="DejaVu Sans, sans-serif" font-size="11" text-anchor="middle">Ы</text>
<text x="634.5" y="455" font-family="DejaVu Sans, sans-serif" font-size="11" text-anchor="middle">Э</text>
<text x="655.5" y="455" font-family="DejaVu Sans, sans-serif" font-size="11" text-anchor="middle">Ю</text>
<text x="676.5" y="455" font-family="DejaVu Sans, sans-serif" font-size="11" text-anchor="middle">Я</text>
<text x="364.6" y="474" font-family="DejaVu Sans, sans-serif" font-size="11" text-anchor="middle" textLength="34.4" lengthAdjust="spacing">Буквы</text>
<text transform="translate(11.5,238) rotate(-90)" font-family="DejaVu Sans, sans-serif" font-size="11" text-anchor="middle" textLength="147" lengthAdjust="spacing">% использования в тексте</text>
</g>
</svg>
</body></html>
